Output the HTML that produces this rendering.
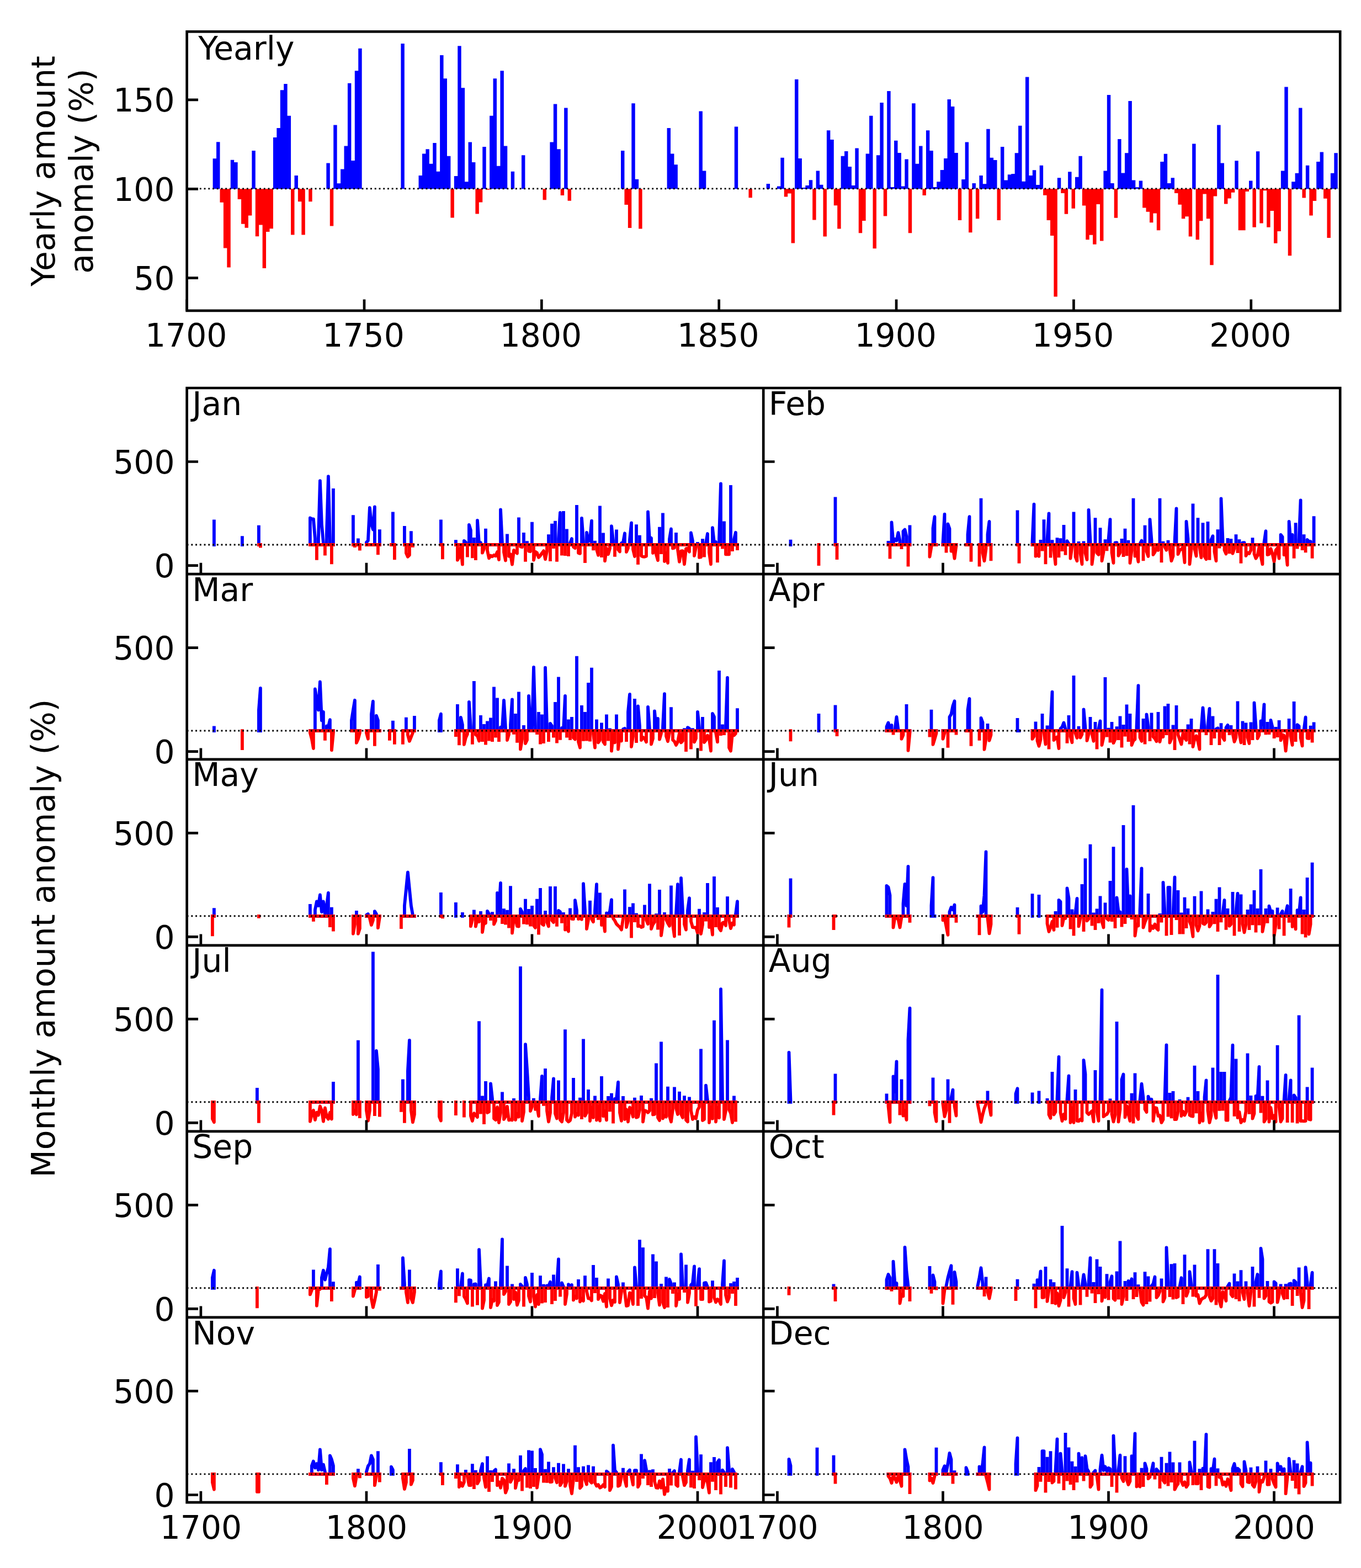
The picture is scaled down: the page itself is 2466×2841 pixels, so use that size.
<!DOCTYPE html>
<html><head><meta charset="utf-8"><title>Yearly and monthly amount anomaly</title>
<style>html,body{margin:0;padding:0;background:#fff;}svg{display:block;}</style></head>
<body><svg width="2466" height="2841" viewBox="0 0 2466 2841">
<rect width="2466" height="2841" fill="#fff"/>
<g font-family="'DejaVu Sans', 'Liberation Sans', sans-serif" font-size="58.33" fill="#000">
<path d="M385.62 287.30h6.43v55.00h-6.43zM392.05 257.20h6.43v85.10h-6.43zM417.77 289.80h6.43v52.50h-6.43zM424.20 294.00h6.43v48.30h-6.43zM456.35 273.10h6.43v69.20h-6.43zM494.92 249.10h6.43v93.20h-6.43zM501.35 232.00h6.43v110.30h-6.43zM507.78 163.30h6.43v179.00h-6.43zM514.21 152.00h6.43v190.30h-6.43zM520.64 209.80h6.43v132.50h-6.43zM533.50 317.90h6.43v24.40h-6.43zM591.36 295.40h6.43v46.90h-6.43zM604.22 226.60h6.43v115.70h-6.43zM610.65 332.20h6.43v10.10h-6.43zM617.08 306.60h6.43v35.70h-6.43zM623.51 264.40h6.43v77.90h-6.43zM629.94 150.70h6.43v191.60h-6.43zM636.37 291.10h6.43v51.20h-6.43zM642.80 128.20h6.43v214.10h-6.43zM649.23 87.70h6.43v254.60h-6.43zM726.38 79.00h6.43v263.30h-6.43zM758.53 318.00h6.43v24.30h-6.43zM764.96 278.50h6.43v63.80h-6.43zM771.39 270.20h6.43v72.10h-6.43zM777.82 296.70h6.43v45.60h-6.43zM784.25 258.90h6.43v83.40h-6.43zM790.68 310.80h6.43v31.50h-6.43zM797.11 100.10h6.43v242.20h-6.43zM803.54 142.30h6.43v200.00h-6.43zM809.97 282.80h6.43v59.50h-6.43zM822.82 319.00h6.43v23.30h-6.43zM829.25 83.20h6.43v259.10h-6.43zM835.68 159.20h6.43v183.10h-6.43zM842.11 329.30h6.43v13.00h-6.43zM848.54 257.60h6.43v84.70h-6.43zM854.97 294.00h6.43v48.30h-6.43zM874.26 265.90h6.43v76.40h-6.43zM887.12 209.70h6.43v132.60h-6.43zM893.55 142.30h6.43v200.00h-6.43zM899.98 300.80h6.43v41.50h-6.43zM906.41 128.20h6.43v214.10h-6.43zM912.84 264.40h6.43v77.90h-6.43zM925.70 310.80h6.43v31.50h-6.43zM944.98 281.20h6.43v61.10h-6.43zM996.42 257.60h6.43v84.70h-6.43zM1002.85 188.40h6.43v153.90h-6.43zM1009.28 270.20h6.43v72.10h-6.43zM1022.14 195.60h6.43v146.70h-6.43zM1125.01 273.10h6.43v69.20h-6.43zM1144.30 187.30h6.43v155.00h-6.43zM1150.73 324.80h6.43v17.50h-6.43zM1208.59 232.00h6.43v110.30h-6.43zM1215.02 278.50h6.43v63.80h-6.43zM1221.45 298.30h6.43v44.00h-6.43zM1266.46 201.40h6.43v140.90h-6.43zM1272.89 309.50h6.43v32.80h-6.43zM1330.75 229.50h6.43v112.80h-6.43zM1388.62 333.10h6.43v9.20h-6.43zM1407.90 337.40h6.43v4.90h-6.43zM1414.33 285.70h6.43v56.60h-6.43zM1440.05 143.70h6.43v198.60h-6.43zM1446.48 287.00h6.43v55.30h-6.43zM1452.91 339.90h6.43v2.40h-6.43zM1459.34 336.00h6.43v6.30h-6.43zM1465.77 326.30h6.43v16.00h-6.43zM1478.63 309.50h6.43v32.80h-6.43zM1485.06 334.70h6.43v7.60h-6.43zM1497.92 236.30h6.43v106.00h-6.43zM1504.34 253.10h6.43v89.20h-6.43zM1523.63 282.80h6.43v59.50h-6.43zM1530.06 274.00h6.43v68.30h-6.43zM1536.49 302.10h6.43v40.20h-6.43zM1542.92 336.00h6.43v6.30h-6.43zM1549.35 268.60h6.43v73.70h-6.43zM1568.64 278.50h6.43v63.80h-6.43zM1575.07 209.70h6.43v132.60h-6.43zM1587.93 281.20h6.43v61.10h-6.43zM1594.36 185.90h6.43v156.40h-6.43zM1607.22 165.00h6.43v177.30h-6.43zM1613.65 338.90h6.43v3.40h-6.43zM1620.07 254.70h6.43v87.60h-6.43zM1626.50 277.00h6.43v65.30h-6.43zM1632.93 337.60h6.43v4.70h-6.43zM1639.36 288.60h6.43v53.70h-6.43zM1652.22 187.30h6.43v155.00h-6.43zM1658.65 296.70h6.43v45.60h-6.43zM1665.08 264.40h6.43v77.90h-6.43zM1677.94 236.30h6.43v106.00h-6.43zM1684.37 273.10h6.43v69.20h-6.43zM1690.80 338.90h6.43v3.40h-6.43zM1697.23 329.30h6.43v13.00h-6.43zM1703.66 307.90h6.43v34.40h-6.43zM1710.09 287.00h6.43v55.30h-6.43zM1716.52 180.10h6.43v162.20h-6.43zM1722.95 193.10h6.43v149.20h-6.43zM1729.38 277.00h6.43v65.30h-6.43zM1742.23 325.00h6.43v17.30h-6.43zM1748.66 257.50h6.43v84.80h-6.43zM1761.52 332.00h6.43v10.30h-6.43zM1774.38 317.90h6.43v24.40h-6.43zM1780.81 333.20h6.43v9.10h-6.43zM1787.24 233.70h6.43v108.60h-6.43zM1793.67 285.70h6.43v56.60h-6.43zM1800.10 290.10h6.43v52.20h-6.43zM1812.96 265.90h6.43v76.40h-6.43zM1819.39 326.40h6.43v15.90h-6.43zM1825.82 316.20h6.43v26.10h-6.43zM1832.25 315.00h6.43v27.30h-6.43zM1838.68 277.20h6.43v65.10h-6.43zM1845.11 227.80h6.43v114.50h-6.43zM1851.53 328.80h6.43v13.50h-6.43zM1857.96 139.40h6.43v202.90h-6.43zM1864.39 317.90h6.43v24.40h-6.43zM1870.82 308.20h6.43v34.10h-6.43zM1877.25 334.90h6.43v7.40h-6.43zM1883.68 299.80h6.43v42.50h-6.43zM1915.83 322.30h6.43v20.00h-6.43zM1935.12 311.20h6.43v31.10h-6.43zM1947.98 320.80h6.43v21.50h-6.43zM1954.41 282.80h6.43v59.50h-6.43zM1999.41 309.50h6.43v32.80h-6.43zM2005.84 171.90h6.43v170.40h-6.43zM2012.27 332.00h6.43v10.30h-6.43zM2025.13 252.10h6.43v90.20h-6.43zM2031.56 313.60h6.43v28.70h-6.43zM2037.99 277.20h6.43v65.10h-6.43zM2044.42 183.00h6.43v159.30h-6.43zM2050.85 326.40h6.43v15.90h-6.43zM2057.28 339.20h6.43v3.10h-6.43zM2063.71 327.60h6.43v14.70h-6.43zM2102.28 293.00h6.43v49.30h-6.43zM2108.71 278.70h6.43v63.60h-6.43zM2115.14 332.00h6.43v10.30h-6.43zM2121.57 322.30h6.43v20.00h-6.43zM2160.15 260.50h6.43v81.80h-6.43zM2205.15 226.60h6.43v115.70h-6.43zM2211.58 295.40h6.43v46.90h-6.43zM2237.30 291.30h6.43v51.00h-6.43zM2263.02 327.60h6.43v14.70h-6.43zM2275.88 274.30h6.43v68.00h-6.43zM2320.88 309.50h6.43v32.80h-6.43zM2327.31 157.60h6.43v184.70h-6.43zM2340.17 329.30h6.43v13.00h-6.43zM2346.60 313.80h6.43v28.50h-6.43zM2353.03 195.60h6.43v146.70h-6.43zM2365.89 299.80h6.43v42.50h-6.43zM2385.18 293.00h6.43v49.30h-6.43zM2391.61 275.50h6.43v66.80h-6.43zM2410.90 313.80h6.43v28.50h-6.43zM2417.33 277.20h6.43v65.10h-6.43z" fill="#0000ff"/>
<path d="M398.48 342.30h6.43v24.40h-6.43zM404.91 342.30h6.43v107.30h-6.43zM411.34 342.30h6.43v142.20h-6.43zM430.63 342.30h6.43v18.60h-6.43zM437.06 342.30h6.43v63.50h-6.43zM443.49 342.30h6.43v70.50h-6.43zM449.92 342.30h6.43v48.20h-6.43zM462.78 342.30h6.43v86.00h-6.43zM469.21 342.30h6.43v65.10h-6.43zM475.63 342.30h6.43v143.60h-6.43zM482.06 342.30h6.43v77.70h-6.43zM488.49 342.30h6.43v71.90h-6.43zM527.07 342.30h6.43v83.10h-6.43zM539.93 342.30h6.43v22.90h-6.43zM546.36 342.30h6.43v83.10h-6.43zM559.22 342.30h6.43v22.90h-6.43zM597.79 342.30h6.43v67.30h-6.43zM816.40 342.30h6.43v52.20h-6.43zM861.40 342.30h6.43v45.10h-6.43zM867.83 342.30h6.43v24.10h-6.43zM880.69 342.30h6.43v1.50h-6.43zM983.56 342.30h6.43v19.90h-6.43zM1015.71 342.30h6.43v11.70h-6.43zM1028.57 342.30h6.43v21.40h-6.43zM1131.44 342.30h6.43v28.60h-6.43zM1137.87 342.30h6.43v70.60h-6.43zM1157.16 342.30h6.43v72.20h-6.43zM1356.47 342.30h6.43v16.00h-6.43zM1420.76 342.30h6.43v14.10h-6.43zM1427.19 342.30h6.43v8.30h-6.43zM1433.62 342.30h6.43v98.30h-6.43zM1472.20 342.30h6.43v56.30h-6.43zM1491.49 342.30h6.43v86.10h-6.43zM1510.77 342.30h6.43v30.00h-6.43zM1517.20 342.30h6.43v72.20h-6.43zM1555.78 342.30h6.43v79.90h-6.43zM1562.21 342.30h6.43v57.70h-6.43zM1581.50 342.30h6.43v108.00h-6.43zM1600.79 342.30h6.43v49.30h-6.43zM1645.79 342.30h6.43v79.90h-6.43zM1671.51 342.30h6.43v11.70h-6.43zM1735.80 342.30h6.43v56.70h-6.43zM1755.09 342.30h6.43v79.00h-6.43zM1767.95 342.30h6.43v53.90h-6.43zM1806.53 342.30h6.43v56.70h-6.43zM1890.11 342.30h6.43v11.50h-6.43zM1896.54 342.30h6.43v56.70h-6.43zM1902.97 342.30h6.43v84.60h-6.43zM1909.40 342.30h6.43v195.30h-6.43zM1922.26 342.30h6.43v7.60h-6.43zM1928.69 342.30h6.43v45.40h-6.43zM1941.55 342.30h6.43v35.50h-6.43zM1960.83 342.30h6.43v30.10h-6.43zM1967.26 342.30h6.43v91.90h-6.43zM1973.69 342.30h6.43v83.40h-6.43zM1980.12 342.30h6.43v100.40h-6.43zM1986.55 342.30h6.43v27.70h-6.43zM1992.98 342.30h6.43v94.30h-6.43zM2018.70 342.30h6.43v52.40h-6.43zM2070.14 342.30h6.43v34.20h-6.43zM2076.56 342.30h6.43v41.50h-6.43zM2082.99 342.30h6.43v60.90h-6.43zM2089.42 342.30h6.43v44.20h-6.43zM2095.85 342.30h6.43v74.90h-6.43zM2128.00 342.30h6.43v7.60h-6.43zM2134.43 342.30h6.43v28.40h-6.43zM2140.86 342.30h6.43v53.90h-6.43zM2147.29 342.30h6.43v50.00h-6.43zM2153.72 342.30h6.43v86.30h-6.43zM2166.58 342.30h6.43v91.90h-6.43zM2173.01 342.30h6.43v58.00h-6.43zM2179.44 342.30h6.43v9.10h-6.43zM2185.87 342.30h6.43v53.90h-6.43zM2192.29 342.30h6.43v137.90h-6.43zM2198.72 342.30h6.43v13.20h-6.43zM2218.01 342.30h6.43v27.20h-6.43zM2224.44 342.30h6.43v17.30h-6.43zM2230.87 342.30h6.43v6.40h-6.43zM2243.73 342.30h6.43v74.90h-6.43zM2250.16 342.30h6.43v74.90h-6.43zM2256.59 342.30h6.43v4.70h-6.43zM2269.45 342.30h6.43v69.40h-6.43zM2282.31 342.30h6.43v62.30h-6.43zM2288.74 342.30h6.43v3.00h-6.43zM2295.17 342.30h6.43v69.40h-6.43zM2301.60 342.30h6.43v39.80h-6.43zM2308.02 342.30h6.43v98.40h-6.43zM2314.45 342.30h6.43v76.60h-6.43zM2333.74 342.30h6.43v120.90h-6.43zM2359.46 342.30h6.43v16.10h-6.43zM2372.32 342.30h6.43v48.30h-6.43zM2378.75 342.30h6.43v21.70h-6.43zM2398.04 342.30h6.43v17.50h-6.43zM2404.47 342.30h6.43v88.70h-6.43z" fill="#ff0000"/>
<line x1="338.64" y1="341.90" x2="2428.20" y2="341.90" stroke="#000" stroke-width="2.92" stroke-dasharray="2.92 4.81"/>
<path d="M338.64 562.90V542.50M660.00 562.90V542.50M981.36 562.90V542.50M1302.72 562.90V542.50M1624.08 562.90V542.50M1945.44 562.90V542.50M2266.80 562.90V542.50M338.64 503.70H359.04M338.64 342.30H359.04M338.64 180.90H359.04" stroke="#000" stroke-width="4.67" fill="none"/>
<rect x="338.64" y="57.30" width="2089.56" height="505.60" fill="none" stroke="#000" stroke-width="4.67" stroke-linejoin="miter"/>
<text x="337.24" y="627.8" text-anchor="middle">1700</text>
<text x="658.60" y="627.8" text-anchor="middle">1750</text>
<text x="979.96" y="627.8" text-anchor="middle">1800</text>
<text x="1301.32" y="627.8" text-anchor="middle">1850</text>
<text x="1622.68" y="627.8" text-anchor="middle">1900</text>
<text x="1944.04" y="627.8" text-anchor="middle">1950</text>
<text x="2265.40" y="627.8" text-anchor="middle">2000</text>
<text x="316.5" y="525.20" text-anchor="end">50</text>
<text x="316.5" y="363.80" text-anchor="end">100</text>
<text x="316.5" y="202.40" text-anchor="end">150</text>
<text x="359.3" y="108.2">Yearly</text>
<text transform="translate(99,310.1) rotate(-90)" text-anchor="middle">Yearly amount</text>
<text transform="translate(168.1,310.1) rotate(-90)" text-anchor="middle">anomaly (%)</text>
<path d="M387.9 987.0L387.9 944.5M438.9 987.0L438.9 974.2M468.9 987.0H471.9M468.9 987.0L468.9 954.6M561.9 987.0H603.9M561.9 987.0L561.9 938.5L564.9 940.3L567.9 940.3L570.9 975.7L570.9 987.0M576.9 987.0L576.9 975.7L579.9 871.1L582.9 950.1L585.9 983.2L585.9 987.0M591.9 987.0L591.9 968.2L594.9 863.2L597.9 979.5L597.9 987.0M603.9 987.0L603.9 888.0M639.9 987.0H651.9M639.9 987.0L639.9 936.2M648.9 987.0L648.9 978.3M663.9 987.0H687.9M663.9 987.0L663.9 982.8L666.9 979.5L669.9 920.0L672.9 949.4L675.9 959.5L678.9 918.5L678.9 987.0M687.9 987.0L687.9 962.2M708.9 987.0H714.9M711.9 987.0L711.9 930.5M732.9 987.0H747.9M732.9 987.0L732.9 955.8M744.9 987.0L744.9 965.2M798.9 987.0H801.9M798.9 987.0L798.9 944.5M825.9 987.0H1336.0M825.9 987.0L825.9 981.2M840.9 987.0L840.9 979.8L843.9 982.5L843.9 987.0M849.9 987.0L849.9 950.9L852.9 960.6L852.9 987.0M858.9 987.0L858.9 976.8M865.0 987.0L865.0 943.0L868.0 984.7L871.0 983.2L871.0 987.0M880.0 987.0L880.0 960.6M907.0 987.0L907.0 923.4L910.0 984.8L910.0 987.0M919.0 987.0L919.0 970.4M940.0 987.0L940.0 940.3M949.0 987.0L949.0 967.8M955.0 987.0L955.0 983.2M964.0 987.0L964.0 948.6M994.0 987.0L994.0 971.2M1000.0 987.0L1000.0 951.6M1006.0 987.0L1006.0 946.7M1012.0 987.0L1012.0 976.1L1015.0 929.0L1015.0 987.0M1021.0 987.0L1021.0 929.0M1027.0 987.0L1027.0 961.4M1033.0 987.0L1033.0 983.7L1036.0 976.1L1036.0 987.0M1045.0 987.0L1045.0 917.8M1054.0 987.0L1054.0 938.8L1057.0 980.8L1057.0 987.0M1063.0 987.0L1063.0 964.8L1066.0 980.9L1069.0 976.9L1072.0 943.7L1072.0 987.0M1078.0 987.0L1078.0 982.6M1087.0 987.0L1087.0 919.3M1093.0 987.0L1093.0 968.5M1108.0 987.0L1108.0 953.1L1111.0 979.2L1111.0 987.0M1117.0 987.0L1117.0 962.5M1126.0 987.0L1126.0 983.9L1129.0 982.8L1132.0 966.3L1132.0 987.0M1141.0 987.0L1141.0 977.7L1144.0 947.5L1144.0 987.0M1153.0 987.0L1153.0 953.1M1159.0 987.0L1159.0 972.7M1174.0 987.0L1174.0 927.5L1177.0 978.6L1180.0 974.9L1180.0 987.0M1195.0 987.0L1195.0 957.6M1201.0 987.0L1201.0 932.4M1213.0 987.0L1213.0 976.8L1216.0 958.4L1216.0 987.0M1225.0 987.0L1225.0 967.8M1252.0 987.0L1252.0 965.5L1255.0 980.1L1255.0 987.0M1264.0 987.0L1264.0 984.8M1273.0 987.0L1273.0 979.2M1279.0 987.0L1279.0 984.0L1282.0 967.0L1282.0 987.0M1291.0 987.0L1291.0 956.1L1294.0 983.4L1297.0 981.7L1297.0 987.0M1303.0 987.0L1303.0 976.1L1306.0 876.4L1306.0 987.0M1312.0 987.0L1312.0 947.5M1324.0 987.0L1324.0 882.0M1330.0 987.0L1330.0 977.3L1333.0 964.8L1333.0 987.0" fill="none" stroke="#0000ff" stroke-width="5.80" stroke-linejoin="round" stroke-linecap="square"/>
<path d="M468.9 987.0H471.9M471.9 987.0L471.9 989.6M561.9 987.0H603.9M573.9 987.0L573.9 1011.8M588.9 987.0L588.9 1003.5M600.9 987.0L600.9 1019.3M639.9 987.0H651.9M642.9 987.0L642.9 989.2M651.9 987.0L651.9 994.5M663.9 987.0H687.9M684.9 987.0L684.9 1002.4M708.9 987.0H714.9M714.9 987.0L714.9 1011.4M732.9 987.0H747.9M735.9 987.0L735.9 1002.0L738.9 1008.8L741.9 1005.8L741.9 987.0M747.9 987.0L747.9 988.9M798.9 987.0H801.9M801.9 987.0L801.9 1010.3M825.9 987.0H1336.0M828.9 987.0L828.9 1014.8L831.9 1009.6L834.9 991.7L837.9 1022.7L837.9 987.0M846.9 987.0L846.9 1006.5M855.9 987.0L855.9 1008.4M861.9 987.0L861.9 1012.2M874.0 987.0L874.0 1001.7L877.0 994.1L877.0 987.0M883.0 987.0L883.0 997.4L886.0 1011.4L889.0 1006.6L892.0 1008.4L895.0 1005.8L898.0 1007.3L901.0 1000.0L904.0 1014.1L904.0 987.0M913.0 987.0L913.0 1000.4L916.0 1015.6L916.0 987.0M922.0 987.0L922.0 1007.8L925.0 1004.3L928.0 1022.7L931.0 996.9L934.0 1000.1L937.0 1002.6L937.0 987.0M943.0 987.0L943.0 990.4L946.0 991.3L946.0 987.0M952.0 987.0L952.0 1014.8M958.0 987.0L958.0 998.6L961.0 999.2L961.0 987.0M967.0 987.0L967.0 1014.8L970.0 999.6L973.0 1001.7L976.0 1009.9L979.0 1006.7L982.0 1002.2L985.0 998.1L988.0 1013.3L991.0 998.6L991.0 987.0M997.0 987.0L997.0 1014.1M1003.0 987.0L1003.0 991.2M1009.0 987.0L1009.0 1014.8M1018.0 987.0L1018.0 1003.6M1024.0 987.0L1024.0 1004.1M1030.0 987.0L1030.0 1005.0M1039.0 987.0L1039.0 990.9L1042.0 993.2L1042.0 987.0M1048.0 987.0L1048.0 1002.0L1051.0 1002.9L1051.0 987.0M1060.0 987.0L1060.0 1017.1M1075.0 987.0L1075.0 994.3M1081.0 987.0L1081.0 995.3L1084.0 1005.9L1084.0 987.0M1090.0 987.0L1090.0 1007.2M1096.0 987.0L1096.0 1016.3L1099.0 993.3L1102.0 1004.3L1105.0 993.6L1105.0 987.0M1114.0 987.0L1114.0 1005.8M1120.0 987.0L1120.0 995.8L1123.0 999.4L1123.0 987.0M1135.0 987.0L1135.0 1000.1L1138.0 993.1L1138.0 987.0M1147.0 987.0L1147.0 995.6L1150.0 1008.2L1150.0 987.0M1156.0 987.0L1156.0 1020.1M1162.0 987.0L1162.0 1007.3L1165.0 1008.6L1168.0 1008.8L1171.0 1007.8L1171.0 987.0M1183.0 987.0L1183.0 1002.0L1186.0 991.1L1189.0 1004.5L1192.0 1015.2L1192.0 987.0M1198.0 987.0L1198.0 1001.2M1204.0 987.0L1204.0 1017.1L1207.0 1001.8L1210.0 1020.1L1210.0 987.0M1219.0 987.0L1219.0 993.5L1222.0 992.8L1222.0 987.0M1228.0 987.0L1228.0 995.8L1231.0 1017.8L1234.0 998.3L1237.0 998.1L1240.0 1022.3L1243.0 994.1L1246.0 993.7L1249.0 999.8L1249.0 987.0M1258.0 987.0L1258.0 1007.0L1261.0 991.5L1261.0 987.0M1267.0 987.0L1267.0 1009.9L1270.0 1009.5L1270.0 987.0M1276.0 987.0L1276.0 1006.5M1285.0 987.0L1285.0 1001.1L1288.0 1022.3L1288.0 987.0M1300.0 987.0L1300.0 1016.3M1309.0 987.0L1309.0 991.5M1315.0 987.0L1315.0 1004.3L1318.0 1004.3L1321.0 1004.3L1321.0 987.0M1327.0 987.0L1327.0 996.1M1336.0 987.0L1336.0 994.1" fill="none" stroke="#ff0000" stroke-width="5.80" stroke-linejoin="round" stroke-linecap="square"/>
<line x1="338.64" y1="986.98" x2="1383.20" y2="986.98" stroke="#000" stroke-width="2.92" stroke-dasharray="2.92 4.81"/>
<path d="M363.90 1040.10V1019.70M663.93 1040.10V1019.70M963.96 1040.10V1019.70M1263.99 1040.10V1019.70M338.64 1024.60H359.04M338.64 836.50H359.04" stroke="#000" stroke-width="4.67" fill="none"/>
<text x="348.24" y="751.60">Jan</text>
<text x="316.5" y="1046.10" text-anchor="end">0</text>
<text x="316.5" y="858.00" text-anchor="end">500</text>
<path d="M1432.5 987.0L1432.5 980.6M1513.5 987.0H1516.5M1513.5 987.0L1513.5 903.5M1609.5 987.0H1648.5M1609.5 987.0L1609.5 982.8M1615.5 987.0L1615.5 946.4L1618.5 983.2L1621.5 976.8L1624.5 979.5L1627.5 965.2L1630.5 979.5L1630.5 987.0M1636.5 987.0L1636.5 962.5L1639.5 959.5L1642.5 971.9L1642.5 987.0M1648.5 987.0L1648.5 954.3M1684.5 987.0H1696.5M1690.5 987.0L1690.5 956.9L1693.5 936.2L1693.5 987.0M1708.5 987.0H1732.5M1708.5 987.0L1708.5 983.2L1711.5 931.7L1711.5 987.0M1717.5 987.0L1717.5 949.4L1720.5 958.0L1720.5 987.0M1750.5 987.0H1759.5M1753.5 987.0L1753.5 968.2L1756.5 936.2L1756.5 987.0M1774.5 987.0H1795.5M1777.5 987.0L1777.5 905.7M1789.5 987.0L1789.5 968.2L1792.5 944.8L1792.5 987.0M1843.5 987.0H1846.5M1843.5 987.0L1843.5 927.5M1870.5 987.0H2380.6M1870.5 987.0L1870.5 981.3L1873.5 913.6L1873.5 987.0M1885.5 987.0L1885.5 980.9M1891.5 987.0L1891.5 944.1M1897.5 987.0L1897.5 977.8L1900.5 930.5L1900.5 987.0M1906.5 987.0L1906.5 981.1M1915.5 987.0L1915.5 977.1M1921.5 987.0L1921.5 978.1M1927.5 987.0L1927.5 953.9M1933.5 987.0L1933.5 980.2L1936.5 985.2L1936.5 987.0M1945.5 987.0L1945.5 930.5M1954.5 987.0L1954.5 984.0M1963.5 987.0L1963.5 983.5M1972.5 987.0L1972.5 923.8L1975.5 980.4L1975.5 987.0M1984.5 987.0L1984.5 941.1M1993.5 987.0L1993.5 959.1M2002.5 987.0L2002.5 980.2M2008.5 987.0L2008.5 977.9L2011.5 941.1L2011.5 987.0M2020.5 987.0L2020.5 983.4L2023.5 983.2L2023.5 987.0M2032.5 987.0L2032.5 978.9M2038.5 987.0L2038.5 960.6M2044.5 987.0L2044.5 981.7M2053.5 987.0L2053.5 905.7M2065.5 987.0L2065.5 985.4L2068.5 979.6L2068.5 987.0M2074.5 987.0L2074.5 954.6M2083.5 987.0L2083.5 941.1L2086.5 979.1L2086.5 987.0M2101.5 987.0L2101.5 905.7M2107.5 987.0L2107.5 983.6M2116.5 987.0L2116.5 981.7M2128.5 987.0L2128.5 981.0L2131.5 921.5L2131.5 987.0M2149.5 987.0L2149.5 944.8L2152.5 976.4L2152.5 987.0M2161.5 987.0L2161.5 915.5M2170.5 987.0L2170.5 941.1M2179.5 987.0L2179.5 950.1M2188.5 987.0L2188.5 947.9M2194.5 987.0L2194.5 978.1L2197.5 971.2L2197.5 987.0M2206.5 987.0L2206.5 962.2M2212.5 987.0L2212.5 903.5L2215.5 978.4L2215.5 987.0M2224.5 987.0L2224.5 978.0M2230.5 987.0L2230.5 979.1M2239.5 987.0L2239.5 971.2M2245.5 987.0L2245.5 980.2M2251.5 987.0L2251.5 983.3L2254.5 983.2L2254.5 987.0M2269.5 987.0L2269.5 977.2M2290.5 987.0L2290.5 982.8L2293.5 962.2L2293.5 987.0M2320.6 987.0L2320.6 968.9L2323.6 972.7L2323.6 987.0M2335.6 987.0L2335.6 944.8L2338.6 982.9L2341.6 968.9L2341.6 987.0M2347.6 987.0L2347.6 950.1M2353.6 987.0L2353.6 979.0L2356.6 906.5L2356.6 987.0M2362.6 987.0L2362.6 971.2M2368.6 987.0L2368.6 978.0L2371.6 981.0L2374.6 981.2L2374.6 987.0M2380.6 987.0L2380.6 938.1" fill="none" stroke="#0000ff" stroke-width="5.80" stroke-linejoin="round" stroke-linecap="square"/>
<path d="M1483.5 987.0L1483.5 1022.0M1513.5 987.0H1516.5M1516.5 987.0L1516.5 1011.1M1609.5 987.0H1648.5M1612.5 987.0L1612.5 1009.6M1633.5 987.0L1633.5 992.2M1645.5 987.0L1645.5 1023.5M1684.5 987.0H1696.5M1684.5 987.0L1684.5 1008.8L1687.5 990.7L1687.5 987.0M1708.5 987.0H1732.5M1714.5 987.0L1714.5 998.6M1723.5 987.0L1723.5 998.6L1726.5 990.7L1729.5 1011.8L1732.5 988.9L1732.5 987.0M1750.5 987.0H1759.5M1759.5 987.0L1759.5 1014.8M1774.5 987.0H1795.5M1774.5 987.0L1774.5 1023.5M1780.5 987.0L1780.5 1002.0L1783.5 1016.3L1786.5 994.5L1786.5 987.0M1795.5 987.0L1795.5 1013.3M1843.5 987.0H1846.5M1846.5 987.0L1846.5 1017.8M1870.5 987.0H2380.6M1876.5 987.0L1876.5 1007.7L1879.5 1005.8L1882.5 1007.7L1882.5 987.0M1888.5 987.0L1888.5 995.7M1894.5 987.0L1894.5 1019.3M1903.5 987.0L1903.5 1007.6M1909.5 987.0L1909.5 996.7L1912.5 1022.3L1912.5 987.0M1918.5 987.0L1918.5 1007.3M1924.5 987.0L1924.5 996.0M1930.5 987.0L1930.5 1002.8M1939.5 987.0L1939.5 1011.8L1942.5 990.6L1942.5 987.0M1948.5 987.0L1948.5 1009.0L1951.5 1016.3L1951.5 987.0M1957.5 987.0L1957.5 1002.5L1960.5 1022.3L1960.5 987.0M1966.5 987.0L1966.5 1002.0L1969.5 1014.1L1969.5 987.0M1978.5 987.0L1978.5 1022.3L1981.5 1000.1L1981.5 987.0M1987.5 987.0L1987.5 1001.8L1990.5 1005.0L1990.5 987.0M1996.5 987.0L1996.5 1016.3L1999.5 1000.4L1999.5 987.0M2005.5 987.0L2005.5 995.3M2014.5 987.0L2014.5 1001.4L2017.5 1020.1L2017.5 987.0M2026.5 987.0L2026.5 1006.8L2029.5 1001.3L2029.5 987.0M2035.5 987.0L2035.5 1006.0M2041.5 987.0L2041.5 1004.3M2047.5 987.0L2047.5 1020.1L2050.5 997.6L2050.5 987.0M2056.5 987.0L2056.5 1007.7L2059.5 1000.5L2062.5 1017.8L2062.5 987.0M2071.5 987.0L2071.5 1013.3M2077.5 987.0L2077.5 999.2L2080.5 1008.1L2080.5 987.0M2089.5 987.0L2089.5 1005.0L2092.5 1000.5L2095.5 992.1L2098.5 996.9L2098.5 987.0M2104.5 987.0L2104.5 1016.3M2110.5 987.0L2110.5 991.1L2113.5 996.8L2113.5 987.0M2119.5 987.0L2119.5 994.7L2122.5 1016.3L2125.5 1007.6L2125.5 987.0M2134.5 987.0L2134.5 1004.2L2137.5 996.8L2140.5 995.0L2143.5 991.3L2146.5 1019.3L2146.5 987.0M2155.5 987.0L2155.5 1022.3L2158.5 995.1L2158.5 987.0M2164.5 987.0L2164.5 994.9L2167.5 1007.6L2167.5 987.0M2173.5 987.0L2173.5 991.0L2176.5 1010.3L2176.5 987.0M2182.5 987.0L2182.5 1008.1L2185.5 1013.3L2185.5 987.0M2191.5 987.0L2191.5 1011.8M2200.5 987.0L2200.5 999.7L2203.5 1016.3L2203.5 987.0M2209.5 987.0L2209.5 990.5M2218.5 987.0L2218.5 996.8L2221.5 1003.6L2221.5 987.0M2227.5 987.0L2227.5 1000.3M2233.5 987.0L2233.5 1002.8L2236.5 993.8L2236.5 987.0M2242.5 987.0L2242.5 999.1M2248.5 987.0L2248.5 1017.8M2257.5 987.0L2257.5 1007.0L2260.5 1001.3L2263.5 1003.0L2266.5 996.8L2266.5 987.0M2272.5 987.0L2272.5 1003.6L2275.5 1011.8L2278.5 1006.8L2281.5 990.9L2284.5 1007.6L2287.5 1022.3L2287.5 987.0M2296.5 987.0L2296.5 1005.1L2299.5 1004.3L2302.5 994.1L2305.5 1003.5L2308.6 1017.8L2311.6 997.0L2314.6 993.0L2317.6 1011.8L2317.6 987.0M2326.6 987.0L2326.6 1005.3L2329.6 995.3L2332.6 1023.8L2332.6 987.0M2344.6 987.0L2344.6 1008.8M2350.6 987.0L2350.6 991.5M2359.6 987.0L2359.6 994.2M2365.6 987.0L2365.6 998.3M2377.6 987.0L2377.6 1008.8" fill="none" stroke="#ff0000" stroke-width="5.80" stroke-linejoin="round" stroke-linecap="square"/>
<line x1="1383.20" y1="986.98" x2="2428.20" y2="986.98" stroke="#000" stroke-width="2.92" stroke-dasharray="2.92 4.81"/>
<path d="M1408.46 1040.10V1019.70M1708.49 1040.10V1019.70M2008.52 1040.10V1019.70M2308.55 1040.10V1019.70M1383.20 1024.60H1403.60M1383.20 836.50H1403.60" stroke="#000" stroke-width="4.67" fill="none"/>
<text x="1392.80" y="751.60">Feb</text>
<path d="M387.9 1324.1L387.9 1318.4M468.9 1324.1H471.9M468.9 1324.1L468.9 1286.5L471.9 1247.0L471.9 1324.1M561.9 1324.1H603.9M570.9 1324.1L570.9 1248.5L573.9 1267.6L576.9 1286.5L579.9 1235.3L582.9 1305.3L585.9 1289.8L585.9 1324.1M591.9 1324.1L591.9 1315.4L594.9 1316.6L597.9 1304.1L597.9 1324.1M636.9 1324.1H651.9M636.9 1324.1L636.9 1305.3L639.9 1286.5L642.9 1268.8L642.9 1324.1M663.9 1324.1H687.9M672.9 1324.1L672.9 1294.0L675.9 1270.7L675.9 1324.1M681.9 1324.1L681.9 1296.6L684.9 1305.3L684.9 1324.1M705.9 1324.1H714.9M711.9 1324.1L711.9 1308.7M729.9 1324.1H750.9M735.9 1324.1L735.9 1302.6M750.9 1324.1L750.9 1300.0M795.9 1324.1H798.9M795.9 1324.1L795.9 1305.3L798.9 1293.6L798.9 1324.1M825.9 1324.1H1336.0M828.9 1324.1L828.9 1278.9M834.9 1324.1L834.9 1300.0L837.9 1313.1L837.9 1324.1M849.9 1324.1L849.9 1271.8L852.9 1316.9L852.9 1324.1M858.9 1324.1L858.9 1236.8M871.0 1324.1L871.0 1298.9M877.0 1324.1L877.0 1314.9M883.0 1324.1L883.0 1309.4M889.0 1324.1L889.0 1303.4M895.0 1324.1L895.0 1247.3M901.0 1324.1L901.0 1267.3M907.0 1324.1L907.0 1317.6L910.0 1319.8L913.0 1268.8L916.0 1318.9L916.0 1324.1M925.0 1324.1L925.0 1313.3L928.0 1267.3L928.0 1324.1M934.0 1324.1L934.0 1295.9M940.0 1324.1L940.0 1256.4M949.0 1324.1L949.0 1316.9M958.0 1324.1L958.0 1260.9L961.0 1316.1L964.0 1320.7L967.0 1209.0L970.0 1315.8L970.0 1324.1M976.0 1324.1L976.0 1292.9M982.0 1324.1L982.0 1297.4M988.0 1324.1L988.0 1209.7L991.0 1316.2L991.0 1324.1M997.0 1324.1L997.0 1310.9L1000.0 1315.1L1000.0 1324.1M1006.0 1324.1L1006.0 1274.8M1012.0 1324.1L1012.0 1229.3M1018.0 1324.1L1018.0 1319.0L1021.0 1322.0L1024.0 1260.9L1024.0 1324.1M1030.0 1324.1L1030.0 1306.4M1036.0 1324.1L1036.0 1301.9M1045.0 1324.1L1045.0 1191.7M1054.0 1324.1L1054.0 1280.8M1060.0 1324.1L1060.0 1292.9M1066.0 1324.1L1066.0 1239.8M1072.0 1324.1L1072.0 1212.7M1081.0 1324.1L1081.0 1306.4M1090.0 1324.1L1090.0 1312.4M1099.0 1324.1L1099.0 1297.4M1105.0 1324.1L1105.0 1322.4M1117.0 1324.1L1117.0 1297.4M1129.0 1324.1L1129.0 1321.2L1132.0 1319.8L1132.0 1324.1M1138.0 1324.1L1138.0 1289.8L1141.0 1257.9L1141.0 1324.1M1150.0 1324.1L1150.0 1268.8M1156.0 1324.1L1156.0 1279.3L1159.0 1316.0L1159.0 1324.1M1174.0 1324.1L1174.0 1280.8L1177.0 1320.6L1177.0 1324.1M1186.0 1324.1L1186.0 1288.3L1189.0 1319.8L1192.0 1301.9L1192.0 1324.1M1201.0 1324.1L1201.0 1317.3L1204.0 1257.1L1204.0 1324.1M1216.0 1324.1L1216.0 1284.2M1240.0 1324.1L1240.0 1322.2M1246.0 1324.1L1246.0 1318.1L1249.0 1319.9L1249.0 1324.1M1255.0 1324.1L1255.0 1322.2M1264.0 1324.1L1264.0 1289.8L1267.0 1318.3L1267.0 1324.1M1273.0 1324.1L1273.0 1301.9M1291.0 1324.1L1291.0 1292.9L1294.0 1298.9L1294.0 1324.1M1303.0 1324.1L1303.0 1218.0M1309.0 1324.1L1309.0 1315.5M1315.0 1324.1L1315.0 1315.2L1318.0 1227.8L1318.0 1324.1M1336.0 1324.1L1336.0 1286.1" fill="none" stroke="#0000ff" stroke-width="5.80" stroke-linejoin="round" stroke-linecap="square"/>
<path d="M438.9 1324.1L438.9 1356.1M561.9 1324.1H603.9M561.9 1324.1L561.9 1327.8L564.9 1339.1L567.9 1356.1L567.9 1324.1M588.9 1324.1L588.9 1338.8M600.9 1324.1L600.9 1359.1L603.9 1327.8L603.9 1324.1M636.9 1324.1H651.9M645.9 1324.1L645.9 1345.9L648.9 1339.1L651.9 1327.8L651.9 1324.1M663.9 1324.1H687.9M663.9 1324.1L663.9 1327.8L666.9 1338.8L666.9 1324.1M678.9 1324.1L678.9 1348.9M705.9 1324.1H714.9M705.9 1324.1L705.9 1338.8M714.9 1324.1L714.9 1345.9M729.9 1324.1H750.9M729.9 1324.1L729.9 1345.9M738.9 1324.1L738.9 1331.6L741.9 1342.9L744.9 1335.4L747.9 1327.8L747.9 1324.1M825.9 1324.1H1336.0M825.9 1324.1L825.9 1332.2M831.9 1324.1L831.9 1347.4M840.9 1324.1L840.9 1348.9L843.9 1336.6L846.9 1330.0L846.9 1324.1M855.9 1324.1L855.9 1345.8M861.9 1324.1L861.9 1331.5L865.0 1333.0L868.0 1342.5L868.0 1324.1M874.0 1324.1L874.0 1341.0M880.0 1324.1L880.0 1346.5M886.0 1324.1L886.0 1339.5M892.0 1324.1L892.0 1341.1M898.0 1324.1L898.0 1333.5M904.0 1324.1L904.0 1341.0M919.0 1324.1L919.0 1341.0L922.0 1330.6L922.0 1324.1M931.0 1324.1L931.0 1327.8M937.0 1324.1L937.0 1342.9M943.0 1324.1L943.0 1357.6L946.0 1339.3L946.0 1324.1M952.0 1324.1L952.0 1347.0L955.0 1340.8L955.0 1324.1M973.0 1324.1L973.0 1328.2M979.0 1324.1L979.0 1345.7M985.0 1324.1L985.0 1344.0M994.0 1324.1L994.0 1341.0M1003.0 1324.1L1003.0 1333.7M1009.0 1324.1L1009.0 1343.5M1015.0 1324.1L1015.0 1337.9M1027.0 1324.1L1027.0 1333.5M1033.0 1324.1L1033.0 1338.0M1039.0 1324.1L1039.0 1336.9L1042.0 1339.5L1042.0 1324.1M1048.0 1324.1L1048.0 1344.0L1051.0 1354.6L1051.0 1324.1M1057.0 1324.1L1057.0 1339.9M1063.0 1324.1L1063.0 1339.5M1069.0 1324.1L1069.0 1340.6M1075.0 1324.1L1075.0 1329.9L1078.0 1354.6L1078.0 1324.1M1084.0 1324.1L1084.0 1345.5L1087.0 1340.9L1087.0 1324.1M1093.0 1324.1L1093.0 1344.0L1096.0 1348.5L1096.0 1324.1M1102.0 1324.1L1102.0 1339.7M1108.0 1324.1L1108.0 1360.6L1111.0 1330.6L1114.0 1345.5L1114.0 1324.1M1120.0 1324.1L1120.0 1357.6L1123.0 1332.1L1126.0 1342.5L1126.0 1324.1M1135.0 1324.1L1135.0 1341.0M1144.0 1324.1L1144.0 1353.0L1147.0 1334.3L1147.0 1324.1M1153.0 1324.1L1153.0 1343.2M1162.0 1324.1L1162.0 1341.0L1165.0 1335.7L1168.0 1338.0L1171.0 1344.4L1171.0 1324.1M1180.0 1324.1L1180.0 1348.5L1183.0 1338.3L1183.0 1324.1M1195.0 1324.1L1195.0 1339.7L1198.0 1329.0L1198.0 1324.1M1207.0 1324.1L1207.0 1333.6L1210.0 1343.2L1213.0 1327.5L1213.0 1324.1M1219.0 1324.1L1219.0 1340.6L1222.0 1343.3L1225.0 1350.0L1228.0 1344.4L1231.0 1328.4L1234.0 1345.5L1237.0 1342.5L1237.0 1324.1M1243.0 1324.1L1243.0 1359.1M1252.0 1324.1L1252.0 1354.6M1258.0 1324.1L1258.0 1344.6L1261.0 1338.0L1261.0 1324.1M1270.0 1324.1L1270.0 1357.6M1276.0 1324.1L1276.0 1345.0L1279.0 1341.0L1282.0 1332.4L1285.0 1339.4L1288.0 1360.6L1288.0 1324.1M1297.0 1324.1L1297.0 1327.2L1300.0 1344.4L1300.0 1324.1M1306.0 1324.1L1306.0 1330.0M1312.0 1324.1L1312.0 1329.0M1321.0 1324.1L1321.0 1354.6L1324.0 1360.6L1327.0 1328.7L1330.0 1332.3L1333.0 1329.0L1333.0 1324.1" fill="none" stroke="#ff0000" stroke-width="5.80" stroke-linejoin="round" stroke-linecap="square"/>
<line x1="338.64" y1="1324.08" x2="1383.20" y2="1324.08" stroke="#000" stroke-width="2.92" stroke-dasharray="2.92 4.81"/>
<path d="M363.90 1375.80V1355.40M663.93 1375.80V1355.40M963.96 1375.80V1355.40M1263.99 1375.80V1355.40M338.64 1361.70H359.04M338.64 1173.60H359.04" stroke="#000" stroke-width="4.67" fill="none"/>
<text x="348.24" y="1088.70">Mar</text>
<text x="316.5" y="1383.20" text-anchor="end">0</text>
<text x="316.5" y="1195.10" text-anchor="end">500</text>
<path d="M1483.5 1324.1L1483.5 1295.9M1513.5 1324.1H1516.5M1513.5 1324.1L1513.5 1280.4M1606.5 1324.1H1648.5M1606.5 1324.1L1606.5 1316.6L1609.5 1309.4L1612.5 1320.3L1615.5 1313.9L1615.5 1324.1M1621.5 1324.1L1621.5 1322.2L1624.5 1298.9L1627.5 1322.2L1627.5 1324.1M1642.5 1324.1L1642.5 1278.9M1684.5 1324.1H1696.5M1687.5 1324.1L1687.5 1288.7M1708.5 1324.1H1732.5M1720.5 1324.1L1720.5 1298.9L1723.5 1294.0L1726.5 1278.9L1729.5 1270.3L1729.5 1324.1M1750.5 1324.1H1759.5M1753.5 1324.1L1753.5 1286.5L1756.5 1265.8L1756.5 1324.1M1774.5 1324.1H1795.5M1777.5 1324.1L1777.5 1300.8L1780.5 1309.0L1780.5 1324.1M1789.5 1324.1L1789.5 1313.9M1843.5 1324.1H1846.5M1843.5 1324.1L1843.5 1303.8M1870.5 1324.1H2380.6M1876.5 1324.1L1876.5 1310.5M1888.5 1324.1L1888.5 1295.9M1897.5 1324.1L1897.5 1317.4M1903.5 1324.1L1903.5 1317.3L1906.5 1253.7L1906.5 1324.1M1921.5 1324.1L1921.5 1320.2L1924.5 1317.3L1927.5 1309.4L1930.5 1321.1L1930.5 1324.1M1936.5 1324.1L1936.5 1298.9M1945.5 1324.1L1945.5 1227.0M1954.5 1324.1L1954.5 1318.6M1963.5 1324.1L1963.5 1285.3L1966.5 1319.2L1966.5 1324.1M1975.5 1324.1L1975.5 1301.9M1984.5 1324.1L1984.5 1310.9M1990.5 1324.1L1990.5 1321.0L1993.5 1306.4L1993.5 1324.1M2002.5 1324.1L2002.5 1230.0M2008.5 1324.1L2008.5 1321.6M2014.5 1324.1L2014.5 1310.9M2023.5 1324.1L2023.5 1319.1M2029.5 1324.1L2029.5 1300.4M2035.5 1324.1L2035.5 1315.9M2041.5 1324.1L2041.5 1279.3M2047.5 1324.1L2047.5 1295.9M2059.5 1324.1L2059.5 1317.1L2062.5 1242.1L2062.5 1324.1M2071.5 1324.1L2071.5 1304.9M2077.5 1324.1L2077.5 1294.4L2080.5 1316.8L2080.5 1324.1M2086.5 1324.1L2086.5 1294.4M2098.5 1324.1L2098.5 1292.9M2110.5 1324.1L2110.5 1282.3M2116.5 1324.1L2116.5 1277.8M2125.5 1324.1L2125.5 1316.4M2131.5 1324.1L2131.5 1280.8M2152.5 1324.1L2152.5 1315.3M2158.5 1324.1L2158.5 1304.9M2176.5 1324.1L2176.5 1321.8L2179.5 1282.3L2182.5 1317.6L2182.5 1324.1M2188.5 1324.1L2188.5 1315.0L2191.5 1283.8L2191.5 1324.1M2197.5 1324.1L2197.5 1300.4M2203.5 1324.1L2203.5 1320.8L2206.5 1319.2L2206.5 1324.1M2212.5 1324.1L2212.5 1313.1M2221.5 1324.1L2221.5 1318.3L2224.5 1313.9L2224.5 1324.1M2230.5 1324.1L2230.5 1316.9M2242.5 1324.1L2242.5 1273.3M2251.5 1324.1L2251.5 1309.4M2257.5 1324.1L2257.5 1312.4M2266.5 1324.1L2266.5 1311.3M2272.5 1324.1L2272.5 1273.3L2275.5 1316.4L2275.5 1324.1M2284.5 1324.1L2284.5 1306.4L2287.5 1313.0L2290.5 1276.3L2290.5 1324.1M2296.5 1324.1L2296.5 1310.9M2302.5 1324.1L2302.5 1304.9L2305.5 1317.4L2305.5 1324.1M2311.6 1324.1L2311.6 1319.9M2317.6 1324.1L2317.6 1307.9M2335.6 1324.1L2335.6 1304.9M2344.6 1324.1L2344.6 1274.0M2350.6 1324.1L2350.6 1313.1L2353.6 1315.7L2353.6 1324.1M2362.6 1324.1L2362.6 1322.3L2365.6 1299.3L2365.6 1324.1M2374.6 1324.1L2374.6 1317.7M2380.6 1324.1L2380.6 1311.3" fill="none" stroke="#0000ff" stroke-width="5.80" stroke-linejoin="round" stroke-linecap="square"/>
<path d="M1432.5 1324.1L1432.5 1340.3M1513.5 1324.1H1516.5M1516.5 1324.1L1516.5 1331.2M1606.5 1324.1H1648.5M1618.5 1324.1L1618.5 1328.6M1633.5 1324.1L1633.5 1338.8L1636.5 1331.6L1636.5 1324.1M1645.5 1324.1L1645.5 1359.8L1648.5 1327.8L1648.5 1324.1M1684.5 1324.1H1696.5M1684.5 1324.1L1684.5 1332.7M1690.5 1324.1L1690.5 1348.9L1693.5 1339.1L1696.5 1328.6L1696.5 1324.1M1708.5 1324.1H1732.5M1708.5 1324.1L1708.5 1338.8L1711.5 1327.8L1711.5 1324.1M1717.5 1324.1L1717.5 1351.9M1732.5 1324.1L1732.5 1328.6M1750.5 1324.1H1759.5M1759.5 1324.1L1759.5 1348.9M1774.5 1324.1H1795.5M1774.5 1324.1L1774.5 1338.8M1783.5 1324.1L1783.5 1357.9L1786.5 1339.1L1786.5 1324.1M1792.5 1324.1L1792.5 1341.8L1795.5 1331.6L1795.5 1324.1M1870.5 1324.1H2380.6M1870.5 1324.1L1870.5 1338.9L1873.5 1334.2L1873.5 1324.1M1879.5 1324.1L1879.5 1342.2L1882.5 1351.9L1885.5 1339.7L1885.5 1324.1M1891.5 1324.1L1891.5 1327.3L1894.5 1348.5L1894.5 1324.1M1900.5 1324.1L1900.5 1354.6M1909.5 1324.1L1909.5 1341.1L1912.5 1337.2L1915.5 1335.2L1918.5 1356.1L1918.5 1324.1M1933.5 1324.1L1933.5 1343.9M1939.5 1324.1L1939.5 1334.2L1942.5 1345.2L1942.5 1324.1M1948.5 1324.1L1948.5 1328.4L1951.5 1337.1L1951.5 1324.1M1957.5 1324.1L1957.5 1336.5L1960.5 1330.5L1960.5 1324.1M1969.5 1324.1L1969.5 1341.9L1972.5 1330.5L1972.5 1324.1M1978.5 1324.1L1978.5 1329.4L1981.5 1342.8L1981.5 1324.1M1987.5 1324.1L1987.5 1354.6M1996.5 1324.1L1996.5 1350.0L1999.5 1336.2L1999.5 1324.1M2005.5 1324.1L2005.5 1332.6M2011.5 1324.1L2011.5 1342.5M2017.5 1324.1L2017.5 1346.2L2020.5 1339.5L2020.5 1324.1M2026.5 1324.1L2026.5 1338.0M2032.5 1324.1L2032.5 1351.5M2038.5 1324.1L2038.5 1331.6M2044.5 1324.1L2044.5 1341.0M2050.5 1324.1L2050.5 1350.0L2053.5 1342.2L2056.5 1339.5L2056.5 1324.1M2065.5 1324.1L2065.5 1336.3L2068.5 1342.9L2068.5 1324.1M2074.5 1324.1L2074.5 1345.5M2083.5 1324.1L2083.5 1340.0M2089.5 1324.1L2089.5 1334.9L2092.5 1338.0L2095.5 1343.2L2095.5 1324.1M2101.5 1324.1L2101.5 1344.0L2104.5 1329.6L2107.5 1335.0L2107.5 1324.1M2113.5 1324.1L2113.5 1329.2M2119.5 1324.1L2119.5 1345.7L2122.5 1338.3L2122.5 1324.1M2128.5 1324.1L2128.5 1356.1M2134.5 1324.1L2134.5 1331.3L2137.5 1340.0L2140.5 1348.5L2143.5 1328.4L2146.5 1337.0L2149.5 1341.0L2149.5 1324.1M2155.5 1324.1L2155.5 1345.5M2161.5 1324.1L2161.5 1353.0L2164.5 1338.4L2167.5 1333.2L2170.5 1343.1L2173.5 1357.6L2173.5 1324.1M2185.5 1324.1L2185.5 1329.0M2194.5 1324.1L2194.5 1347.0M2200.5 1324.1L2200.5 1335.0M2209.5 1324.1L2209.5 1347.0M2215.5 1324.1L2215.5 1336.0L2218.5 1341.0L2218.5 1324.1M2227.5 1324.1L2227.5 1329.0M2233.5 1324.1L2233.5 1328.7L2236.5 1344.0L2239.5 1336.5L2239.5 1324.1M2245.5 1324.1L2245.5 1328.5L2248.5 1345.5L2248.5 1324.1M2254.5 1324.1L2254.5 1347.0M2260.5 1324.1L2260.5 1336.0L2263.5 1347.0L2263.5 1324.1M2269.5 1324.1L2269.5 1338.0M2278.5 1324.1L2278.5 1338.0L2281.5 1331.7L2281.5 1324.1M2293.5 1324.1L2293.5 1328.3M2299.5 1324.1L2299.5 1328.2M2308.6 1324.1L2308.6 1335.0M2314.6 1324.1L2314.6 1333.1M2320.6 1324.1L2320.6 1341.3L2323.6 1331.2L2326.6 1332.7L2329.6 1360.6L2332.6 1332.0L2332.6 1324.1M2338.6 1324.1L2338.6 1334.4L2341.6 1350.0L2341.6 1324.1M2347.6 1324.1L2347.6 1341.0M2356.6 1324.1L2356.6 1336.6L2359.6 1351.5L2359.6 1324.1M2368.6 1324.1L2368.6 1337.6L2371.6 1338.0L2371.6 1324.1M2377.6 1324.1L2377.6 1342.5" fill="none" stroke="#ff0000" stroke-width="5.80" stroke-linejoin="round" stroke-linecap="square"/>
<line x1="1383.20" y1="1324.08" x2="2428.20" y2="1324.08" stroke="#000" stroke-width="2.92" stroke-dasharray="2.92 4.81"/>
<path d="M1408.46 1375.80V1355.40M1708.49 1375.80V1355.40M2008.52 1375.80V1355.40M2308.55 1375.80V1355.40M1383.20 1361.70H1403.60M1383.20 1173.60H1403.60" stroke="#000" stroke-width="4.67" fill="none"/>
<text x="1392.80" y="1088.70">Apr</text>
<path d="M384.9 1659.8H387.9M387.9 1659.8L387.9 1648.1M561.9 1659.8H603.9M561.9 1659.8L561.9 1641.0M570.9 1659.8L570.9 1648.5L573.9 1633.4L576.9 1641.0L579.9 1621.4L582.9 1652.3L585.9 1633.4L588.9 1656.0L591.9 1641.0L594.9 1617.6L594.9 1659.8M600.9 1659.8L600.9 1646.6M639.9 1659.8H651.9M645.9 1659.8L645.9 1653.0M663.9 1659.8H687.9M663.9 1659.8L663.9 1657.9L666.9 1656.0L666.9 1659.8M678.9 1659.8L678.9 1651.1L681.9 1656.0L681.9 1659.8M726.9 1659.8H750.9M732.9 1659.8L732.9 1641.0L735.9 1610.9L738.9 1580.4L741.9 1610.9L744.9 1641.0L747.9 1657.9L747.9 1659.8M798.9 1659.8H801.9M798.9 1659.8L798.9 1619.9M825.9 1659.8L825.9 1638.0M837.9 1659.8L837.9 1656.0M852.9 1659.8H1336.0M858.9 1659.8L858.9 1651.3M871.0 1659.8L871.0 1653.8M883.0 1659.8L883.0 1650.8L886.0 1656.0L886.0 1659.8M892.0 1659.8L892.0 1655.1M901.0 1659.8L901.0 1618.0L904.0 1650.6L907.0 1600.0L907.0 1659.8M913.0 1659.8L913.0 1649.1M919.0 1659.8L919.0 1651.7M925.0 1659.8L925.0 1608.2M943.0 1659.8L943.0 1647.0L946.0 1652.4L946.0 1659.8M952.0 1659.8L952.0 1631.6M958.0 1659.8L958.0 1650.0M964.0 1659.8L964.0 1644.0M973.0 1659.8L973.0 1631.6M979.0 1659.8L979.0 1612.0M988.0 1659.8L988.0 1652.9M997.0 1659.8L997.0 1609.0M1006.0 1659.8L1006.0 1609.0M1012.0 1659.8L1012.0 1650.0L1015.0 1652.1L1015.0 1659.8M1021.0 1659.8L1021.0 1656.0M1033.0 1659.8L1033.0 1648.5M1042.0 1659.8L1042.0 1631.2L1045.0 1649.5L1045.0 1659.8M1057.0 1659.8L1057.0 1601.1L1060.0 1650.6L1060.0 1659.8M1069.0 1659.8L1069.0 1634.6M1078.0 1659.8L1078.0 1649.1L1081.0 1602.2L1081.0 1659.8M1087.0 1659.8L1087.0 1620.3M1099.0 1659.8L1099.0 1654.5L1102.0 1656.8L1105.0 1651.2L1108.0 1630.1L1108.0 1659.8M1132.0 1659.8L1132.0 1614.3M1141.0 1659.8L1141.0 1646.2M1147.0 1659.8L1147.0 1639.5M1153.0 1659.8L1153.0 1657.5M1168.0 1659.8L1168.0 1642.5M1177.0 1659.8L1177.0 1604.1M1189.0 1659.8L1189.0 1658.2M1195.0 1659.8L1195.0 1615.0M1204.0 1659.8L1204.0 1656.0M1216.0 1659.8L1216.0 1607.5M1225.0 1659.8L1225.0 1656.5L1228.0 1602.2L1228.0 1659.8M1234.0 1659.8L1234.0 1590.9L1237.0 1651.3L1237.0 1659.8M1246.0 1659.8L1246.0 1650.0L1249.0 1627.1L1249.0 1659.8M1267.0 1659.8L1267.0 1649.6M1276.0 1659.8L1276.0 1656.0M1282.0 1659.8L1282.0 1603.0M1294.0 1659.8L1294.0 1590.9M1300.0 1659.8L1300.0 1647.0M1318.0 1659.8L1318.0 1627.1M1333.0 1659.8L1333.0 1656.6L1336.0 1633.1L1336.0 1659.8" fill="none" stroke="#0000ff" stroke-width="5.80" stroke-linejoin="round" stroke-linecap="square"/>
<path d="M384.9 1659.8H387.9M384.9 1659.8L384.9 1693.3M468.9 1659.8L468.9 1660.9M561.9 1659.8H603.9M567.9 1659.8L567.9 1666.9M597.9 1659.8L597.9 1677.1M603.9 1659.8L603.9 1684.6M639.9 1659.8H651.9M639.9 1659.8L639.9 1691.8L642.9 1674.8L642.9 1659.8M648.9 1659.8L648.9 1691.8L651.9 1682.4L651.9 1659.8M663.9 1659.8H687.9M669.9 1659.8L669.9 1663.5L672.9 1676.0L675.9 1667.3L675.9 1659.8M684.9 1659.8L684.9 1681.2L687.9 1661.7L687.9 1659.8M726.9 1659.8H750.9M726.9 1659.8L726.9 1680.1M798.9 1659.8H801.9M801.9 1659.8L801.9 1661.3M852.9 1659.8H1336.0M852.9 1659.8L852.9 1678.2L855.9 1666.6L855.9 1659.8M861.9 1659.8L861.9 1678.6L865.0 1664.4L868.0 1670.2L868.0 1659.8M874.0 1659.8L874.0 1689.1L877.0 1669.7L880.0 1672.6L880.0 1659.8M889.0 1659.8L889.0 1665.0M895.0 1659.8L895.0 1674.6L898.0 1668.1L898.0 1659.8M910.0 1659.8L910.0 1671.1M916.0 1659.8L916.0 1672.6M922.0 1659.8L922.0 1678.5M928.0 1659.8L928.0 1690.6L931.0 1663.9L934.0 1662.9L937.0 1678.1L940.0 1678.6L940.0 1659.8M949.0 1659.8L949.0 1671.6M955.0 1659.8L955.0 1672.4M961.0 1659.8L961.0 1675.6M967.0 1659.8L967.0 1677.1L970.0 1681.0L970.0 1659.8M976.0 1659.8L976.0 1690.6M982.0 1659.8L982.0 1674.1L985.0 1676.2L985.0 1659.8M991.0 1659.8L991.0 1671.1L994.0 1678.4L994.0 1659.8M1000.0 1659.8L1000.0 1667.6L1003.0 1671.1L1003.0 1659.8M1009.0 1659.8L1009.0 1675.9M1018.0 1659.8L1018.0 1669.9M1024.0 1659.8L1024.0 1684.6L1027.0 1681.3L1030.0 1687.6L1030.0 1659.8M1036.0 1659.8L1036.0 1664.9L1039.0 1665.2L1039.0 1659.8M1048.0 1659.8L1048.0 1665.0L1051.0 1664.0L1054.0 1665.8L1054.0 1659.8M1063.0 1659.8L1063.0 1683.1L1066.0 1666.7L1066.0 1659.8M1072.0 1659.8L1072.0 1665.0L1075.0 1670.3L1075.0 1659.8M1084.0 1659.8L1084.0 1663.8M1090.0 1659.8L1090.0 1676.1L1093.0 1665.6L1096.0 1687.6L1096.0 1659.8M1111.0 1659.8L1111.0 1664.0L1114.0 1668.1L1117.0 1674.1L1120.0 1677.1L1123.0 1679.7L1126.0 1684.6L1129.0 1664.3L1129.0 1659.8M1135.0 1659.8L1135.0 1680.1L1138.0 1668.8L1138.0 1659.8M1144.0 1659.8L1144.0 1696.6M1150.0 1659.8L1150.0 1668.1M1156.0 1659.8L1156.0 1678.2L1159.0 1677.4L1162.0 1680.1L1165.0 1679.1L1165.0 1659.8M1171.0 1659.8L1171.0 1666.8L1174.0 1674.1L1174.0 1659.8M1180.0 1659.8L1180.0 1683.1L1183.0 1674.8L1186.0 1670.7L1186.0 1659.8M1192.0 1659.8L1192.0 1681.6M1198.0 1659.8L1198.0 1695.1L1201.0 1674.4L1201.0 1659.8M1207.0 1659.8L1207.0 1666.3L1210.0 1672.6L1213.0 1677.8L1213.0 1659.8M1219.0 1659.8L1219.0 1675.0L1222.0 1696.6L1222.0 1659.8M1231.0 1659.8L1231.0 1692.1M1240.0 1659.8L1240.0 1674.7L1243.0 1684.6L1243.0 1659.8M1252.0 1659.8L1252.0 1669.3L1255.0 1680.1L1258.0 1680.7L1261.0 1680.4L1264.0 1690.6L1264.0 1659.8M1270.0 1659.8L1270.0 1692.1L1273.0 1675.5L1273.0 1659.8M1279.0 1659.8L1279.0 1666.6M1285.0 1659.8L1285.0 1680.1L1288.0 1668.9L1291.0 1693.6L1291.0 1659.8M1297.0 1659.8L1297.0 1677.1M1303.0 1659.8L1303.0 1681.6L1306.0 1686.1L1309.0 1672.1L1312.0 1670.9L1315.0 1677.1L1315.0 1659.8M1321.0 1659.8L1321.0 1667.6L1324.0 1682.1L1327.0 1672.5L1330.0 1675.6L1330.0 1659.8" fill="none" stroke="#ff0000" stroke-width="5.80" stroke-linejoin="round" stroke-linecap="square"/>
<line x1="338.64" y1="1659.78" x2="1383.20" y2="1659.78" stroke="#000" stroke-width="2.92" stroke-dasharray="2.92 4.81"/>
<path d="M363.90 1712.80V1692.40M663.93 1712.80V1692.40M963.96 1712.80V1692.40M1263.99 1712.80V1692.40M338.64 1697.40H359.04M338.64 1509.30H359.04" stroke="#000" stroke-width="4.67" fill="none"/>
<text x="348.24" y="1424.40">May</text>
<text x="316.5" y="1718.90" text-anchor="end">0</text>
<text x="316.5" y="1530.80" text-anchor="end">500</text>
<path d="M1429.5 1659.8H1432.5M1432.5 1659.8L1432.5 1594.3M1606.5 1659.8H1648.5M1606.5 1659.8L1606.5 1604.9L1609.5 1607.5L1612.5 1622.2L1612.5 1659.8M1636.5 1659.8L1636.5 1637.2L1639.5 1601.8L1642.5 1641.0L1645.5 1569.9L1645.5 1659.8M1687.5 1659.8H1693.5M1687.5 1659.8L1687.5 1641.0L1690.5 1590.2L1690.5 1659.8M1708.5 1659.8H1732.5M1720.5 1659.8L1720.5 1652.3L1723.5 1644.0L1726.5 1648.5L1729.5 1639.5L1729.5 1659.8M1771.5 1659.8H1795.5M1777.5 1659.8L1777.5 1641.7L1780.5 1652.3L1783.5 1622.2L1786.5 1543.5L1786.5 1659.8M1843.5 1659.8H1846.5M1843.5 1659.8L1843.5 1647.0M1870.5 1659.8L1870.5 1622.2M1882.5 1659.8L1882.5 1624.0M1897.5 1659.8H2377.6M1912.5 1659.8L1912.5 1653.8M1918.5 1659.8L1918.5 1630.8L1921.5 1633.8L1921.5 1659.8M1933.5 1659.8L1933.5 1609.4L1936.5 1627.8L1936.5 1659.8M1942.5 1659.8L1942.5 1650.5M1948.5 1659.8L1948.5 1655.4L1951.5 1627.8L1951.5 1659.8M1960.5 1659.8L1960.5 1604.9M1966.5 1659.8L1966.5 1558.2M1975.5 1659.8L1975.5 1532.6M1981.5 1659.8L1981.5 1656.4M1987.5 1659.8L1987.5 1649.3M1993.5 1659.8L1993.5 1626.3M2002.5 1659.8L2002.5 1638.3M2011.5 1659.8L2011.5 1598.8M2017.5 1659.8L2017.5 1537.1M2023.5 1659.8L2023.5 1626.3L2026.5 1652.1L2029.5 1652.3L2029.5 1659.8M2035.5 1659.8L2035.5 1498.0M2041.5 1659.8L2041.5 1574.8L2044.5 1653.8L2047.5 1623.3L2047.5 1659.8M2053.5 1659.8L2053.5 1461.9M2065.5 1659.8L2065.5 1650.1L2068.5 1573.3L2068.5 1659.8M2080.5 1659.8L2080.5 1621.8M2101.5 1659.8L2101.5 1657.8M2107.5 1659.8L2107.5 1598.8L2110.5 1653.6L2110.5 1659.8M2116.5 1659.8L2116.5 1607.9L2119.5 1607.9L2119.5 1659.8M2125.5 1659.8L2125.5 1657.9L2128.5 1589.4L2128.5 1659.8M2134.5 1659.8L2134.5 1615.8M2140.5 1659.8L2140.5 1656.5M2146.5 1659.8L2146.5 1628.6M2152.5 1659.8L2152.5 1648.9M2164.5 1659.8L2164.5 1626.7M2176.5 1659.8L2176.5 1617.3M2188.5 1659.8L2188.5 1650.4M2197.5 1659.8L2197.5 1655.0M2203.5 1659.8L2203.5 1631.6M2209.5 1659.8L2209.5 1610.5M2215.5 1659.8L2215.5 1654.9L2218.5 1630.8L2218.5 1659.8M2224.5 1659.8L2224.5 1648.9M2233.5 1659.8L2233.5 1618.8M2239.5 1659.8L2239.5 1651.7L2242.5 1618.8L2242.5 1659.8M2248.5 1659.8L2248.5 1623.3M2260.5 1659.8L2260.5 1650.8M2266.5 1659.8L2266.5 1641.3M2272.5 1659.8L2272.5 1615.8M2278.5 1659.8L2278.5 1648.8M2284.5 1659.8L2284.5 1577.8M2293.5 1659.8L2293.5 1648.9M2299.5 1659.8L2299.5 1641.7L2302.5 1652.3L2305.5 1650.8L2305.5 1659.8M2314.6 1659.8L2314.6 1647.4M2320.6 1659.8L2320.6 1656.6L2323.6 1650.8L2323.6 1659.8M2329.6 1659.8L2329.6 1654.8L2332.6 1641.3L2332.6 1659.8M2338.6 1659.8L2338.6 1612.8M2350.6 1659.8L2350.6 1649.2L2353.6 1657.2L2356.6 1626.3L2356.6 1659.8M2362.6 1659.8L2362.6 1650.9M2368.6 1659.8L2368.6 1592.8M2377.6 1659.8L2377.6 1565.7" fill="none" stroke="#0000ff" stroke-width="5.80" stroke-linejoin="round" stroke-linecap="square"/>
<path d="M1429.5 1659.8H1432.5M1429.5 1659.8L1429.5 1677.5M1510.5 1659.8H1513.5M1510.5 1659.8L1510.5 1682.0M1606.5 1659.8H1648.5M1618.5 1659.8L1618.5 1680.5L1621.5 1661.7L1624.5 1663.5L1627.5 1665.4L1630.5 1680.5L1633.5 1661.7L1633.5 1659.8M1648.5 1659.8L1648.5 1668.8M1708.5 1659.8H1732.5M1708.5 1659.8L1708.5 1667.3L1711.5 1663.5L1714.5 1678.6L1717.5 1694.0L1717.5 1659.8M1732.5 1659.8L1732.5 1668.8M1771.5 1659.8H1795.5M1774.5 1659.8L1774.5 1691.4M1789.5 1659.8L1789.5 1663.5L1792.5 1691.4L1795.5 1674.8L1795.5 1659.8M1843.5 1659.8H1846.5M1846.5 1659.8L1846.5 1689.9M1897.5 1659.8H2377.6M1897.5 1659.8L1897.5 1673.4L1900.5 1688.0L1903.5 1680.4L1906.5 1669.8L1909.5 1685.0L1909.5 1659.8M1915.5 1659.8L1915.5 1677.9M1924.5 1659.8L1924.5 1677.0L1927.5 1662.8L1930.5 1663.9L1930.5 1659.8M1939.5 1659.8L1939.5 1680.5M1945.5 1659.8L1945.5 1692.5M1954.5 1659.8L1954.5 1678.4L1957.5 1663.7L1957.5 1659.8M1963.5 1659.8L1963.5 1685.0M1969.5 1659.8L1969.5 1668.4L1972.5 1665.1L1972.5 1659.8M1978.5 1659.8L1978.5 1674.5M1984.5 1659.8L1984.5 1682.0M1990.5 1659.8L1990.5 1669.9M1996.5 1659.8L1996.5 1669.6L1999.5 1680.5L1999.5 1659.8M2005.5 1659.8L2005.5 1664.3L2008.5 1666.9L2008.5 1659.8M2014.5 1659.8L2014.5 1667.1M2020.5 1659.8L2020.5 1679.0M2032.5 1659.8L2032.5 1676.6M2038.5 1659.8L2038.5 1671.1M2050.5 1659.8L2050.5 1663.1M2056.5 1659.8L2056.5 1695.5L2059.5 1674.3L2062.5 1677.5L2062.5 1659.8M2071.5 1659.8L2071.5 1680.6L2074.5 1670.8L2077.5 1663.8L2077.5 1659.8M2083.5 1659.8L2083.5 1686.5L2086.5 1677.8L2089.5 1682.0L2092.5 1674.5L2095.5 1682.0L2098.5 1685.0L2098.5 1659.8M2104.5 1659.8L2104.5 1668.6M2113.5 1659.8L2113.5 1692.5M2122.5 1659.8L2122.5 1691.0M2131.5 1659.8L2131.5 1664.0M2137.5 1659.8L2137.5 1689.5M2143.5 1659.8L2143.5 1689.5M2149.5 1659.8L2149.5 1679.1M2155.5 1659.8L2155.5 1670.0L2158.5 1677.5L2161.5 1697.0L2161.5 1659.8M2167.5 1659.8L2167.5 1676.2L2170.5 1686.5L2173.5 1677.8L2173.5 1659.8M2179.5 1659.8L2179.5 1673.1L2182.5 1674.5L2185.5 1671.3L2185.5 1659.8M2191.5 1659.8L2191.5 1679.0L2194.5 1674.1L2194.5 1659.8M2200.5 1659.8L2200.5 1671.3M2206.5 1659.8L2206.5 1685.0M2212.5 1659.8L2212.5 1668.4M2221.5 1659.8L2221.5 1681.9M2227.5 1659.8L2227.5 1677.7L2230.5 1674.5L2230.5 1659.8M2236.5 1659.8L2236.5 1692.5M2245.5 1659.8L2245.5 1685.0M2251.5 1659.8L2251.5 1674.1L2254.5 1689.5L2257.5 1675.4L2257.5 1659.8M2263.5 1659.8L2263.5 1682.0M2269.5 1659.8L2269.5 1673.4M2275.5 1659.8L2275.5 1686.5M2281.5 1659.8L2281.5 1673.5M2287.5 1659.8L2287.5 1688.0L2290.5 1672.0L2290.5 1659.8M2296.5 1659.8L2296.5 1669.9M2308.6 1659.8L2308.6 1695.5L2311.6 1675.4L2311.6 1659.8M2317.6 1659.8L2317.6 1680.5M2326.6 1659.8L2326.6 1692.5M2335.6 1659.8L2335.6 1668.9M2341.6 1659.8L2341.6 1679.0L2344.6 1664.4L2347.6 1683.5L2347.6 1659.8M2359.6 1659.8L2359.6 1689.5M2365.6 1659.8L2365.6 1695.5M2371.6 1659.8L2371.6 1692.5L2374.6 1674.8L2374.6 1659.8" fill="none" stroke="#ff0000" stroke-width="5.80" stroke-linejoin="round" stroke-linecap="square"/>
<line x1="1383.20" y1="1659.78" x2="2428.20" y2="1659.78" stroke="#000" stroke-width="2.92" stroke-dasharray="2.92 4.81"/>
<path d="M1408.46 1712.80V1692.40M1708.49 1712.80V1692.40M2008.52 1712.80V1692.40M2308.55 1712.80V1692.40M1383.20 1697.40H1403.60M1383.20 1509.30H1403.60" stroke="#000" stroke-width="4.67" fill="none"/>
<text x="1392.80" y="1424.40">Jun</text>
<path d="M465.9 1996.8H468.9M465.9 1996.8L465.9 1973.8M561.9 1996.8H603.9M603.9 1996.8L603.9 1962.9M639.9 1996.8H651.9M648.9 1996.8L648.9 1887.7M663.9 1996.8H687.9M675.9 1996.8L675.9 1727.4M681.9 1996.8L681.9 1903.9L684.9 1937.3L684.9 1996.8M726.9 1996.8H750.9M729.9 1996.8L729.9 1958.4M738.9 1996.8L738.9 1940.4L741.9 1885.0L741.9 1996.8M852.9 1996.8H1333.0M868.0 1996.8L868.0 1853.1M874.0 1996.8L874.0 1988.3M880.0 1996.8L880.0 1961.8M889.0 1996.8L889.0 1963.3L892.0 1990.5L892.0 1996.8M910.0 1996.8L910.0 1981.4M931.0 1996.8L931.0 1992.8M943.0 1996.8L943.0 1753.8M952.0 1996.8L952.0 1892.2L955.0 1937.7L958.0 1987.9L958.0 1996.8M967.0 1996.8L967.0 1992.7M979.0 1996.8L979.0 1991.0L982.0 1949.8L982.0 1996.8M988.0 1996.8L988.0 1938.8M1000.0 1996.8L1000.0 1988.8L1003.0 1954.3L1003.0 1996.8M1012.0 1996.8L1012.0 1960.3M1024.0 1996.8L1024.0 1868.1M1039.0 1996.8L1039.0 1955.8M1051.0 1996.8L1051.0 1991.6M1057.0 1996.8L1057.0 1885.4M1066.0 1996.8L1066.0 1976.8M1078.0 1996.8L1078.0 1988.3M1090.0 1996.8L1090.0 1952.8M1102.0 1996.8L1102.0 1988.9M1108.0 1996.8L1108.0 1983.6M1114.0 1996.8L1114.0 1990.9L1117.0 1991.9L1120.0 1960.7L1120.0 1996.8M1129.0 1996.8L1129.0 1988.9M1150.0 1996.8L1150.0 1991.6M1162.0 1996.8L1162.0 1987.8M1180.0 1996.8L1180.0 1992.6M1189.0 1996.8L1189.0 1929.4M1198.0 1996.8L1198.0 1890.3M1210.0 1996.8L1210.0 1971.6M1222.0 1996.8L1222.0 1972.3M1231.0 1996.8L1231.0 1980.6M1240.0 1996.8L1240.0 1988.2M1249.0 1996.8L1249.0 1990.5M1270.0 1996.8L1270.0 1903.5M1279.0 1996.8L1279.0 1966.7L1282.0 1994.6L1282.0 1996.8M1294.0 1996.8L1294.0 1851.6M1306.0 1996.8L1306.0 1792.1L1309.0 1993.9L1309.0 1996.8M1318.0 1996.8L1318.0 1887.3M1330.0 1996.8L1330.0 1988.5" fill="none" stroke="#0000ff" stroke-width="5.80" stroke-linejoin="round" stroke-linecap="square"/>
<path d="M384.9 1996.8H387.9M384.9 1996.8L384.9 2026.9L387.9 2033.3L387.9 1996.8M465.9 1996.8H468.9M468.9 1996.8L468.9 2031.8M561.9 1996.8H603.9M561.9 1996.8L561.9 2031.8L564.9 2019.4L567.9 2011.8L570.9 2029.1L573.9 2015.6L576.9 2020.5L579.9 2004.3L582.9 2011.8L585.9 2031.8L588.9 2007.3L591.9 2023.1L594.9 2027.6L597.9 2015.6L600.9 2027.6L600.9 1996.8M639.9 1996.8H651.9M639.9 1996.8L639.9 2019.0L642.9 2011.8L645.9 2019.4L645.9 1996.8M651.9 1996.8L651.9 2023.1M663.9 1996.8H687.9M663.9 1996.8L663.9 2011.8L666.9 2030.6L669.9 2011.8L669.9 1996.8M678.9 1996.8L678.9 2019.0M687.9 1996.8L687.9 2020.5M726.9 1996.8H750.9M726.9 1996.8L726.9 2011.8M732.9 1996.8L732.9 2031.8M744.9 1996.8L744.9 2011.8L747.9 2033.3L750.9 2019.4L750.9 1996.8M795.9 1996.8H798.9M795.9 1996.8L795.9 2023.1L798.9 2030.6L798.9 1996.8M825.9 1996.8L825.9 2018.2M840.9 1996.8L840.9 2021.6M852.9 1996.8H1333.0M852.9 1996.8L852.9 2021.8L855.9 2031.0L858.9 2017.1L861.9 2020.5L865.0 2024.1L865.0 1996.8M871.0 1996.8L871.0 2015.6M877.0 1996.8L877.0 2034.0M883.0 1996.8L883.0 2016.0L886.0 2014.2L886.0 1996.8M895.0 1996.8L895.0 2026.5L898.0 2029.2L901.0 2006.0L904.0 2034.0L907.0 2016.6L907.0 1996.8M913.0 1996.8L913.0 2028.0L916.0 2023.1L919.0 2004.8L922.0 2029.5L925.0 2028.6L928.0 2029.5L928.0 1996.8M934.0 1996.8L934.0 2029.1L937.0 2017.5L940.0 2023.7L940.0 1996.8M946.0 1996.8L946.0 2031.0L949.0 2014.6L949.0 1996.8M961.0 1996.8L961.0 2013.0L964.0 2005.1L964.0 1996.8M970.0 1996.8L970.0 2009.9L973.0 2004.6L976.0 2022.3L976.0 1996.8M985.0 1996.8L985.0 2000.9M991.0 1996.8L991.0 2012.7L994.0 2032.5L997.0 2016.1L997.0 1996.8M1006.0 1996.8L1006.0 2017.5L1009.0 2026.5L1009.0 1996.8M1015.0 1996.8L1015.0 2028.8L1018.0 2032.5L1021.0 2016.0L1021.0 1996.8M1027.0 1996.8L1027.0 2029.3L1030.0 2032.5L1033.0 2030.0L1036.0 2017.2L1036.0 1996.8M1042.0 1996.8L1042.0 2023.5L1045.0 2017.8L1048.0 2020.5L1048.0 1996.8M1054.0 1996.8L1054.0 2025.0M1060.0 1996.8L1060.0 2021.8L1063.0 2016.3L1063.0 1996.8M1069.0 1996.8L1069.0 2031.0L1072.0 2006.4L1075.0 2025.0L1075.0 1996.8M1081.0 1996.8L1081.0 2029.5L1084.0 2004.7L1087.0 2030.6L1087.0 1996.8M1093.0 1996.8L1093.0 2022.3L1096.0 2012.9L1099.0 2029.5L1099.0 1996.8M1105.0 1996.8L1105.0 2011.4M1111.0 1996.8L1111.0 2032.5M1123.0 1996.8L1123.0 2016.0L1126.0 2030.8L1126.0 1996.8M1132.0 1996.8L1132.0 2028.0L1135.0 2010.2L1138.0 2032.5L1141.0 2006.5L1144.0 2010.6L1147.0 2023.5L1147.0 1996.8M1153.0 1996.8L1153.0 2024.7L1156.0 2023.5L1159.0 2011.1L1159.0 1996.8M1165.0 1996.8L1165.0 2032.5L1168.0 2012.1L1171.0 2013.0L1174.0 2015.8L1177.0 2012.6L1177.0 1996.8M1183.0 1996.8L1183.0 2019.5L1186.0 2019.0L1186.0 1996.8M1192.0 1996.8L1192.0 2025.0L1195.0 2030.1L1195.0 1996.8M1201.0 1996.8L1201.0 2026.5L1204.0 2021.4L1207.0 2023.6L1207.0 1996.8M1213.0 1996.8L1213.0 2022.0L1216.0 2032.5L1219.0 2010.2L1219.0 1996.8M1225.0 1996.8L1225.0 2007.7L1228.0 2019.0L1228.0 1996.8M1234.0 1996.8L1234.0 2018.4L1237.0 2025.0L1237.0 1996.8M1243.0 1996.8L1243.0 2029.3L1246.0 2032.5L1246.0 1996.8M1252.0 1996.8L1252.0 2012.1L1255.0 2028.0L1258.0 2023.8L1261.0 2026.5L1264.0 2011.2L1267.0 2005.8L1267.0 1996.8M1273.0 1996.8L1273.0 2030.0L1276.0 2028.0L1276.0 1996.8M1285.0 1996.8L1285.0 2034.0L1288.0 2006.0L1291.0 2026.9L1291.0 1996.8M1297.0 1996.8L1297.0 2032.5L1300.0 2006.6L1303.0 2025.3L1303.0 1996.8M1312.0 1996.8L1312.0 2028.0L1315.0 2013.0L1315.0 1996.8M1321.0 1996.8L1321.0 2010.5L1324.0 2017.1L1327.0 2034.0L1327.0 1996.8M1333.0 1996.8L1333.0 2029.5" fill="none" stroke="#ff0000" stroke-width="5.80" stroke-linejoin="round" stroke-linecap="square"/>
<line x1="338.64" y1="1996.78" x2="1383.20" y2="1996.78" stroke="#000" stroke-width="2.92" stroke-dasharray="2.92 4.81"/>
<path d="M363.90 2049.80V2029.40M663.93 2049.80V2029.40M963.96 2049.80V2029.40M1263.99 2049.80V2029.40M338.64 2034.40H359.04M338.64 1846.30H359.04" stroke="#000" stroke-width="4.67" fill="none"/>
<text x="348.24" y="1761.40">Jul</text>
<text x="316.5" y="2055.90" text-anchor="end">0</text>
<text x="316.5" y="1867.80" text-anchor="end">500</text>
<path d="M1429.5 1996.8H1432.5M1429.5 1996.8L1429.5 1906.9L1432.5 1994.9L1432.5 1996.8M1510.5 1996.8H1513.5M1513.5 1996.8L1513.5 1948.3M1606.5 1996.8H1648.5M1606.5 1996.8L1606.5 1984.4M1618.5 1996.8L1618.5 1950.5L1621.5 1978.0L1624.5 1923.4L1624.5 1996.8M1633.5 1996.8L1633.5 1958.4M1645.5 1996.8L1645.5 1883.9L1648.5 1826.7L1648.5 1996.8M1684.5 1996.8H1696.5M1690.5 1996.8L1690.5 1955.4M1708.5 1996.8H1732.5M1717.5 1996.8L1717.5 1958.4M1723.5 1996.8L1723.5 1989.3L1726.5 1974.6L1726.5 1996.8M1771.5 1996.8H1795.5M1789.5 1996.8L1789.5 1979.5M1840.5 1996.8H1843.5M1840.5 1996.8L1840.5 1981.7L1843.5 1972.3L1843.5 1996.8M1870.5 1996.8L1870.5 1982.5M1882.5 1996.8L1882.5 1979.5M1897.5 1996.8H2377.6M1897.5 1996.8L1897.5 1993.0M1906.5 1996.8L1906.5 1944.9M1915.5 1996.8L1915.5 1991.1L1918.5 1914.8L1918.5 1996.8M1933.5 1996.8L1933.5 1992.2L1936.5 1949.4L1936.5 1996.8M1948.5 1996.8L1948.5 1976.8M1963.5 1996.8L1963.5 1920.8L1966.5 1946.4L1966.5 1996.8M1984.5 1996.8L1984.5 1941.9M1993.5 1996.8L1993.5 1992.0L1996.5 1793.6L1996.5 1996.8M2011.5 1996.8L2011.5 1993.4M2023.5 1996.8L2023.5 1853.8M2032.5 1996.8L2032.5 1955.8L2035.5 1946.4L2035.5 1996.8M2050.5 1996.8L2050.5 1983.6M2056.5 1996.8L2056.5 1947.5M2065.5 1996.8L2065.5 1993.6L2068.5 1963.7L2071.5 1989.4L2071.5 1996.8M2080.5 1996.8L2080.5 1986.6L2083.5 1995.0L2086.5 1991.8L2086.5 1996.8M2110.5 1996.8L2110.5 1990.4L2113.5 1893.3L2113.5 1996.8M2119.5 1996.8L2119.5 1982.9M2125.5 1996.8L2125.5 1979.9M2137.5 1996.8L2137.5 1995.0M2152.5 1996.8L2152.5 1990.6M2164.5 1996.8L2164.5 1933.6M2170.5 1996.8L2170.5 1979.9M2182.5 1996.8L2182.5 1987.8L2185.5 1957.3L2185.5 1996.8M2197.5 1996.8L2197.5 1937.3M2206.5 1996.8L2206.5 1768.8M2212.5 1996.8L2212.5 1944.9M2218.5 1996.8L2218.5 1944.9M2227.5 1996.8L2227.5 1994.9L2230.5 1988.2L2233.5 1893.7L2233.5 1996.8M2239.5 1996.8L2239.5 1921.5M2260.5 1996.8L2260.5 1911.4M2266.5 1996.8L2266.5 1987.8M2275.5 1996.8L2275.5 1985.9L2278.5 1991.6L2281.5 1932.8L2281.5 1996.8M2287.5 1996.8L2287.5 1988.7M2296.5 1996.8L2296.5 1960.3M2314.6 1996.8L2314.6 1896.7M2326.6 1996.8L2326.6 1994.1L2329.6 1947.9L2329.6 1996.8M2335.6 1996.8L2335.6 1991.4L2338.6 1957.3L2338.6 1996.8M2344.6 1996.8L2344.6 1984.4L2347.6 1988.9L2347.6 1996.8M2353.6 1996.8L2353.6 1842.5M2368.6 1996.8L2368.6 1972.3M2377.6 1996.8L2377.6 1937.3" fill="none" stroke="#0000ff" stroke-width="5.80" stroke-linejoin="round" stroke-linecap="square"/>
<path d="M1510.5 1996.8H1513.5M1510.5 1996.8L1510.5 2017.5M1606.5 1996.8H1648.5M1609.5 1996.8L1609.5 2004.3L1612.5 2033.3L1612.5 1996.8M1630.5 1996.8L1630.5 2017.5M1636.5 1996.8L1636.5 2021.6L1639.5 2011.8L1642.5 2029.1L1642.5 1996.8M1684.5 1996.8H1696.5M1684.5 1996.8L1684.5 2001.3M1693.5 1996.8L1693.5 2015.6L1696.5 2031.8L1696.5 1996.8M1708.5 1996.8H1732.5M1708.5 1996.8L1708.5 2000.5L1711.5 2023.1L1714.5 2011.8L1714.5 1996.8M1720.5 1996.8L1720.5 2031.8M1729.5 1996.8L1729.5 2004.3L1732.5 2021.6L1732.5 1996.8M1771.5 1996.8H1795.5M1771.5 1996.8L1771.5 2000.5L1774.5 2015.6L1777.5 2033.3L1780.5 2019.4L1783.5 2008.1L1786.5 2000.5L1786.5 1996.8M1792.5 1996.8L1792.5 2004.3L1795.5 2020.5L1795.5 1996.8M1897.5 1996.8H2377.6M1900.5 1996.8L1900.5 2019.5L1903.5 2025.9L1903.5 1996.8M1909.5 1996.8L1909.5 2019.6L1912.5 2014.5L1912.5 1996.8M1921.5 1996.8L1921.5 2016.0L1924.5 2031.1L1927.5 2019.0L1930.5 2027.4L1930.5 1996.8M1939.5 1996.8L1939.5 2034.0L1942.5 2007.4L1945.5 2034.0L1945.5 1996.8M1951.5 1996.8L1951.5 2031.0L1954.5 2031.4L1957.5 2028.0L1960.5 2030.5L1960.5 1996.8M1969.5 1996.8L1969.5 2016.0L1972.5 2019.1L1975.5 2016.0L1978.5 2013.1L1981.5 2032.4L1981.5 1996.8M1987.5 1996.8L1987.5 2014.7L1990.5 2031.0L1990.5 1996.8M1999.5 1996.8L1999.5 2023.2L2002.5 2020.5L2005.5 2019.0L2008.5 2013.8L2008.5 1996.8M2014.5 1996.8L2014.5 2018.3L2017.5 2032.5L2020.5 2020.0L2020.5 1996.8M2026.5 1996.8L2026.5 2032.5L2029.5 2009.7L2029.5 1996.8M2038.5 1996.8L2038.5 2024.4L2041.5 2003.9L2044.5 2018.3L2047.5 2031.0L2047.5 1996.8M2053.5 1996.8L2053.5 2032.5M2059.5 1996.8L2059.5 2021.9L2062.5 2028.0L2062.5 1996.8M2074.5 1996.8L2074.5 2009.9L2077.5 2015.0L2077.5 1996.8M2089.5 1996.8L2089.5 2031.0L2092.5 2007.0L2095.5 2007.6L2098.5 2022.0L2101.5 2021.0L2104.5 2034.0L2107.5 2028.6L2107.5 1996.8M2116.5 1996.8L2116.5 2020.5M2122.5 1996.8L2122.5 2023.3M2128.5 1996.8L2128.5 2028.2L2131.5 2028.0L2134.5 2013.9L2134.5 1996.8M2140.5 1996.8L2140.5 2022.0L2143.5 2013.7L2146.5 2020.5L2149.5 2014.0L2149.5 1996.8M2155.5 1996.8L2155.5 2020.5L2158.5 2022.2L2161.5 2022.7L2161.5 1996.8M2167.5 1996.8L2167.5 2014.3M2173.5 1996.8L2173.5 2034.0L2176.5 2016.8L2179.5 2031.0L2179.5 1996.8M2188.5 1996.8L2188.5 2012.4L2191.5 2034.0L2194.5 2021.3L2194.5 1996.8M2200.5 1996.8L2200.5 2012.5L2203.5 2025.7L2203.5 1996.8M2209.5 1996.8L2209.5 2009.9M2215.5 1996.8L2215.5 2009.6M2221.5 1996.8L2221.5 2029.5L2224.5 2029.7L2224.5 1996.8M2236.5 1996.8L2236.5 2019.9M2242.5 1996.8L2242.5 2025.0L2245.5 2014.8L2248.5 2034.0L2251.5 2028.9L2254.5 2031.2L2257.5 2013.5L2257.5 1996.8M2263.5 1996.8L2263.5 2015.8M2269.5 1996.8L2269.5 2026.7L2272.5 2017.5L2272.5 1996.8M2284.5 1996.8L2284.5 2013.5M2290.5 1996.8L2290.5 2032.5L2293.5 2027.4L2293.5 1996.8M2299.5 1996.8L2299.5 2032.5L2302.5 2006.9L2305.5 2026.5L2308.6 2021.2L2311.6 2032.5L2311.6 1996.8M2317.6 1996.8L2317.6 2006.2L2320.6 2032.5L2323.6 2026.7L2323.6 1996.8M2332.6 1996.8L2332.6 2031.0M2341.6 1996.8L2341.6 2031.0M2350.6 1996.8L2350.6 2032.5M2356.6 1996.8L2356.6 2031.1L2359.6 2031.0L2362.6 2031.3L2365.6 2031.0L2365.6 1996.8M2371.6 1996.8L2371.6 2028.0L2374.6 2028.8L2374.6 1996.8" fill="none" stroke="#ff0000" stroke-width="5.80" stroke-linejoin="round" stroke-linecap="square"/>
<line x1="1383.20" y1="1996.78" x2="2428.20" y2="1996.78" stroke="#000" stroke-width="2.92" stroke-dasharray="2.92 4.81"/>
<path d="M1408.46 2049.80V2029.40M1708.49 2049.80V2029.40M2008.52 2049.80V2029.40M2308.55 2049.80V2029.40M1383.20 2034.40H1403.60M1383.20 1846.30H1403.60" stroke="#000" stroke-width="4.67" fill="none"/>
<text x="1392.80" y="1761.40">Aug</text>
<path d="M384.9 2333.8H387.9M384.9 2333.8L384.9 2315.0L387.9 2301.8L387.9 2333.8M561.9 2333.8H603.9M567.9 2333.8L567.9 2303.3M582.9 2333.8L582.9 2315.0L585.9 2301.8L588.9 2318.7L591.9 2307.4L594.9 2296.2L597.9 2263.1L597.9 2333.8M603.9 2333.8L603.9 2325.1M639.9 2333.8H651.9M645.9 2333.8L645.9 2323.6L648.9 2326.3L651.9 2313.5L651.9 2333.8M663.9 2333.8H687.9M684.9 2333.8L684.9 2293.9M726.9 2333.8H750.9M729.9 2333.8L729.9 2279.2L732.9 2326.3L732.9 2333.8M741.9 2333.8L741.9 2303.3M795.9 2333.8H798.9M795.9 2333.8L795.9 2326.3L798.9 2303.3L798.9 2333.8M825.9 2333.8H1336.0M828.9 2333.8L828.9 2301.1M834.9 2333.8L834.9 2331.1L837.9 2307.4L837.9 2333.8M849.9 2333.8L849.9 2319.1L852.9 2319.5L852.9 2333.8M858.9 2333.8L858.9 2326.8L861.9 2326.5L861.9 2333.8M868.0 2333.8L868.0 2264.2L871.0 2328.7L871.0 2333.8M880.0 2333.8L880.0 2328.1L883.0 2329.6L886.0 2316.5L886.0 2333.8M898.0 2333.8L898.0 2324.4M907.0 2333.8L907.0 2323.5L910.0 2245.4L910.0 2333.8M919.0 2333.8L919.0 2296.5M928.0 2333.8L928.0 2329.3M943.0 2333.8L943.0 2327.0L946.0 2330.4L946.0 2333.8M952.0 2333.8L952.0 2315.0L955.0 2327.5L955.0 2333.8M964.0 2333.8L964.0 2309.0M979.0 2333.8L979.0 2314.2M985.0 2333.8L985.0 2329.7M991.0 2333.8L991.0 2329.3L994.0 2330.6L997.0 2322.7L997.0 2333.8M1003.0 2333.8L1003.0 2312.3M1009.0 2333.8L1009.0 2328.8L1012.0 2281.5L1012.0 2333.8M1018.0 2333.8L1018.0 2324.3L1021.0 2331.6L1021.0 2333.8M1030.0 2333.8L1030.0 2327.1L1033.0 2331.1L1036.0 2328.0L1036.0 2333.8M1048.0 2333.8L1048.0 2321.0M1060.0 2333.8L1060.0 2314.2M1075.0 2333.8L1075.0 2295.0M1081.0 2333.8L1081.0 2318.0M1102.0 2333.8L1102.0 2319.5M1117.0 2333.8L1117.0 2313.5L1120.0 2327.3L1120.0 2333.8M1129.0 2333.8L1129.0 2326.4M1150.0 2333.8L1150.0 2296.5L1153.0 2331.5L1153.0 2333.8M1159.0 2333.8L1159.0 2249.1M1165.0 2333.8L1165.0 2263.1M1183.0 2333.8L1183.0 2275.5M1189.0 2333.8L1189.0 2288.3M1198.0 2333.8L1198.0 2328.9M1207.0 2333.8L1207.0 2316.5M1213.0 2333.8L1213.0 2318.0L1216.0 2326.1L1216.0 2333.8M1222.0 2333.8L1222.0 2326.3M1234.0 2333.8L1234.0 2272.5L1237.0 2329.2L1237.0 2333.8M1243.0 2333.8L1243.0 2294.3M1252.0 2333.8L1252.0 2328.2L1255.0 2324.9L1258.0 2294.3L1258.0 2333.8M1264.0 2333.8L1264.0 2328.5L1267.0 2299.2L1267.0 2333.8M1276.0 2333.8L1276.0 2324.7L1279.0 2324.1L1282.0 2332.0L1282.0 2333.8M1291.0 2333.8L1291.0 2323.2M1309.0 2333.8L1309.0 2327.3L1312.0 2284.5L1312.0 2333.8M1324.0 2333.8L1324.0 2327.8M1330.0 2333.8L1330.0 2325.0M1336.0 2333.8L1336.0 2318.0" fill="none" stroke="#0000ff" stroke-width="5.80" stroke-linejoin="round" stroke-linecap="square"/>
<path d="M465.9 2333.8L465.9 2367.3M561.9 2333.8H603.9M561.9 2333.8L561.9 2345.4L564.9 2337.5L564.9 2333.8M573.9 2333.8L573.9 2365.8L576.9 2337.5L579.9 2335.7L579.9 2333.8M600.9 2333.8L600.9 2355.2M639.9 2333.8H651.9M639.9 2333.8L639.9 2348.5L642.9 2337.5L642.9 2333.8M663.9 2333.8H687.9M663.9 2333.8L663.9 2350.0L666.9 2348.8L666.9 2333.8M672.9 2333.8L672.9 2352.6L675.9 2368.8L678.9 2356.4L681.9 2341.3L681.9 2333.8M687.9 2333.8L687.9 2335.7M726.9 2333.8H750.9M735.9 2333.8L735.9 2341.3L738.9 2360.1L738.9 2333.8M744.9 2333.8L744.9 2352.6L747.9 2360.1L750.9 2341.3L750.9 2333.8M825.9 2333.8H1336.0M825.9 2333.8L825.9 2357.3M831.9 2333.8L831.9 2345.4M840.9 2333.8L840.9 2349.1L843.9 2354.1L846.9 2361.4L846.9 2333.8M855.9 2333.8L855.9 2364.6M865.0 2333.8L865.0 2361.9M874.0 2333.8L874.0 2370.6L877.0 2355.9L877.0 2333.8M889.0 2333.8L889.0 2369.1L892.0 2355.0L895.0 2357.1L895.0 2333.8M901.0 2333.8L901.0 2365.0L904.0 2359.2L904.0 2333.8M913.0 2333.8L913.0 2345.1L916.0 2340.2L916.0 2333.8M922.0 2333.8L922.0 2363.1L925.0 2358.7L925.0 2333.8M931.0 2333.8L931.0 2354.1L934.0 2341.3L937.0 2364.6L940.0 2355.7L940.0 2333.8M949.0 2333.8L949.0 2364.6M958.0 2333.8L958.0 2348.1L961.0 2358.6L961.0 2333.8M967.0 2333.8L967.0 2349.4L970.0 2367.6L973.0 2345.8L976.0 2363.2L976.0 2333.8M982.0 2333.8L982.0 2358.6M988.0 2333.8L988.0 2357.1M1000.0 2333.8L1000.0 2360.1M1006.0 2333.8L1006.0 2354.1M1015.0 2333.8L1015.0 2346.6M1024.0 2333.8L1024.0 2363.1L1027.0 2344.2L1027.0 2333.8M1039.0 2333.8L1039.0 2355.6L1042.0 2348.6L1045.0 2352.5L1045.0 2333.8M1051.0 2333.8L1051.0 2358.6L1054.0 2352.2L1057.0 2357.1L1057.0 2333.8M1063.0 2333.8L1063.0 2339.7L1066.0 2352.6L1069.0 2352.3L1072.0 2356.5L1072.0 2333.8M1078.0 2333.8L1078.0 2340.0M1084.0 2333.8L1084.0 2354.1L1087.0 2346.8L1090.0 2348.1L1093.0 2357.7L1096.0 2343.9L1099.0 2367.6L1099.0 2333.8M1105.0 2333.8L1105.0 2352.7L1108.0 2365.4L1111.0 2355.6L1114.0 2359.0L1114.0 2333.8M1123.0 2333.8L1123.0 2360.1L1126.0 2340.0L1126.0 2333.8M1132.0 2333.8L1132.0 2340.5L1135.0 2366.1L1138.0 2365.4L1141.0 2342.3L1144.0 2344.8L1147.0 2363.1L1147.0 2333.8M1156.0 2333.8L1156.0 2363.1M1162.0 2333.8L1162.0 2350.1M1168.0 2333.8L1168.0 2348.1L1171.0 2350.4L1174.0 2370.6L1177.0 2339.6L1180.0 2352.6L1180.0 2333.8M1186.0 2333.8L1186.0 2349.1M1192.0 2333.8L1192.0 2342.9L1195.0 2364.6L1195.0 2333.8M1201.0 2333.8L1201.0 2360.0L1204.0 2369.1L1204.0 2333.8M1210.0 2333.8L1210.0 2366.1M1219.0 2333.8L1219.0 2341.0M1225.0 2333.8L1225.0 2366.1L1228.0 2345.2L1231.0 2354.1L1231.0 2333.8M1240.0 2333.8L1240.0 2339.0M1246.0 2333.8L1246.0 2359.8L1249.0 2343.0L1249.0 2333.8M1261.0 2333.8L1261.0 2363.9M1270.0 2333.8L1270.0 2354.0L1273.0 2354.1L1273.0 2333.8M1285.0 2333.8L1285.0 2358.6L1288.0 2357.4L1288.0 2333.8M1294.0 2333.8L1294.0 2351.1L1297.0 2359.5L1300.0 2354.1L1303.0 2356.6L1306.0 2363.1L1306.0 2333.8M1315.0 2333.8L1315.0 2346.6L1318.0 2358.6L1321.0 2350.7L1321.0 2333.8M1327.0 2333.8L1327.0 2341.1M1333.0 2333.8L1333.0 2363.1" fill="none" stroke="#ff0000" stroke-width="5.80" stroke-linejoin="round" stroke-linecap="square"/>
<line x1="338.64" y1="2333.78" x2="1383.20" y2="2333.78" stroke="#000" stroke-width="2.92" stroke-dasharray="2.92 4.81"/>
<path d="M363.90 2386.90V2366.50M663.93 2386.90V2366.50M963.96 2386.90V2366.50M1263.99 2386.90V2366.50M338.64 2371.40H359.04M338.64 2183.30H359.04" stroke="#000" stroke-width="4.67" fill="none"/>
<text x="348.24" y="2098.40">Sep</text>
<text x="316.5" y="2392.90" text-anchor="end">0</text>
<text x="316.5" y="2204.80" text-anchor="end">500</text>
<path d="M1510.5 2333.8H1513.5M1510.5 2333.8L1510.5 2329.3M1606.5 2333.8H1648.5M1606.5 2333.8L1606.5 2318.7L1609.5 2309.0L1612.5 2315.0L1612.5 2333.8M1618.5 2333.8L1618.5 2285.6L1621.5 2326.3L1624.5 2325.1L1624.5 2333.8M1639.5 2333.8L1639.5 2260.0L1642.5 2303.7L1645.5 2330.0L1645.5 2333.8M1684.5 2333.8H1696.5M1684.5 2333.8L1684.5 2296.9M1690.5 2333.8L1690.5 2310.5L1693.5 2322.5L1693.5 2333.8M1708.5 2333.8H1732.5M1714.5 2333.8L1714.5 2330.0L1717.5 2315.0L1720.5 2303.7L1723.5 2293.2L1723.5 2333.8M1729.5 2333.8L1729.5 2304.8L1732.5 2322.5L1732.5 2333.8M1771.5 2333.8H1795.5M1771.5 2333.8L1771.5 2330.0L1774.5 2315.0L1777.5 2297.3L1780.5 2326.3L1780.5 2333.8M1786.5 2333.8L1786.5 2316.5M1840.5 2333.8H1843.5M1843.5 2333.8L1843.5 2320.6M1873.5 2333.8H2377.6M1873.5 2333.8L1873.5 2328.7M1879.5 2333.8L1879.5 2319.1L1882.5 2332.1L1885.5 2303.3L1885.5 2333.8M1894.5 2333.8L1894.5 2298.0M1903.5 2333.8L1903.5 2321.0M1909.5 2333.8L1909.5 2326.2M1924.5 2333.8L1924.5 2223.9M1933.5 2333.8L1933.5 2301.1M1939.5 2333.8L1939.5 2331.4L1942.5 2304.1L1942.5 2333.8M1951.5 2333.8L1951.5 2305.6L1954.5 2330.3L1954.5 2333.8M1960.5 2333.8L1960.5 2331.4L1963.5 2309.3L1966.5 2326.5L1966.5 2333.8M1972.5 2333.8L1972.5 2326.9L1975.5 2279.2L1975.5 2333.8M1981.5 2333.8L1981.5 2325.8M1987.5 2333.8L1987.5 2284.5M1993.5 2333.8L1993.5 2298.0M2005.5 2333.8L2005.5 2311.2M2011.5 2333.8L2011.5 2322.8L2014.5 2312.3L2014.5 2333.8M2023.5 2333.8L2023.5 2306.3M2029.5 2333.8L2029.5 2251.4M2038.5 2333.8L2038.5 2324.0M2044.5 2333.8L2044.5 2321.0L2047.5 2328.6L2050.5 2317.2L2050.5 2333.8M2056.5 2333.8L2056.5 2308.2M2062.5 2333.8L2062.5 2330.2M2074.5 2333.8L2074.5 2307.1M2080.5 2333.8L2080.5 2315.3M2086.5 2333.8L2086.5 2329.8L2089.5 2326.1L2092.5 2313.5L2092.5 2333.8M2104.5 2333.8L2104.5 2319.5M2113.5 2333.8L2113.5 2260.4L2116.5 2323.8L2116.5 2333.8M2122.5 2333.8L2122.5 2293.2M2128.5 2333.8L2128.5 2292.0M2137.5 2333.8L2137.5 2331.5L2140.5 2315.3L2140.5 2333.8M2146.5 2333.8L2146.5 2276.2M2155.5 2333.8L2155.5 2304.1L2158.5 2327.9L2158.5 2333.8M2164.5 2333.8L2164.5 2294.3M2188.5 2333.8L2188.5 2266.1M2200.5 2333.8L2200.5 2266.1M2206.5 2333.8L2206.5 2292.0M2224.5 2333.8L2224.5 2330.8L2227.5 2325.6L2227.5 2333.8M2236.5 2333.8L2236.5 2310.5M2242.5 2333.8L2242.5 2324.4M2248.5 2333.8L2248.5 2304.1M2257.5 2333.8L2257.5 2324.4M2269.5 2333.8L2269.5 2298.0M2275.5 2333.8L2275.5 2322.5L2278.5 2309.0L2278.5 2333.8M2284.5 2333.8L2284.5 2261.9L2287.5 2281.5L2287.5 2333.8M2296.5 2333.8L2296.5 2323.8M2308.6 2333.8L2308.6 2322.5L2311.6 2325.1L2311.6 2333.8M2320.6 2333.8L2320.6 2329.3M2329.6 2333.8L2329.6 2329.1M2335.6 2333.8L2335.6 2326.2L2338.6 2325.5L2338.6 2333.8M2344.6 2333.8L2344.6 2320.2L2347.6 2323.0L2347.6 2333.8M2353.6 2333.8L2353.6 2299.5M2365.6 2333.8L2365.6 2296.2L2368.6 2323.6L2368.6 2333.8M2374.6 2333.8L2374.6 2328.1L2377.6 2305.6L2377.6 2333.8" fill="none" stroke="#0000ff" stroke-width="5.80" stroke-linejoin="round" stroke-linecap="square"/>
<path d="M1429.5 2333.8L1429.5 2343.9M1510.5 2333.8H1513.5M1513.5 2333.8L1513.5 2355.2M1606.5 2333.8H1648.5M1615.5 2333.8L1615.5 2336.8M1630.5 2333.8L1630.5 2361.6L1633.5 2345.1L1636.5 2348.5L1636.5 2333.8M1648.5 2333.8L1648.5 2355.2M1684.5 2333.8H1696.5M1687.5 2333.8L1687.5 2340.9M1696.5 2333.8L1696.5 2334.5M1708.5 2333.8H1732.5M1708.5 2333.8L1708.5 2361.6L1711.5 2337.5L1711.5 2333.8M1726.5 2333.8L1726.5 2360.9M1771.5 2333.8H1795.5M1783.5 2333.8L1783.5 2346.2M1789.5 2333.8L1789.5 2341.3L1792.5 2352.6L1795.5 2337.5L1795.5 2333.8M1840.5 2333.8H1843.5M1840.5 2333.8L1840.5 2354.1M1873.5 2333.8H2377.6M1876.5 2333.8L1876.5 2367.3M1888.5 2333.8L1888.5 2351.1L1891.5 2350.7L1891.5 2333.8M1897.5 2333.8L1897.5 2357.9L1900.5 2337.5L1900.5 2333.8M1906.5 2333.8L1906.5 2360.1M1912.5 2333.8L1912.5 2361.8L1915.5 2343.0L1918.5 2366.1L1921.5 2356.1L1921.5 2333.8M1927.5 2333.8L1927.5 2351.1L1930.5 2341.6L1930.5 2333.8M1936.5 2333.8L1936.5 2364.6M1945.5 2333.8L1945.5 2352.4L1948.5 2363.1L1948.5 2333.8M1957.5 2333.8L1957.5 2361.6M1969.5 2333.8L1969.5 2346.9M1978.5 2333.8L1978.5 2340.6M1984.5 2333.8L1984.5 2358.1M1990.5 2333.8L1990.5 2342.1M1996.5 2333.8L1996.5 2357.4L1999.5 2337.5L2002.5 2350.6L2002.5 2333.8M2008.5 2333.8L2008.5 2352.6M2017.5 2333.8L2017.5 2352.8L2020.5 2355.6L2020.5 2333.8M2026.5 2333.8L2026.5 2351.6M2032.5 2333.8L2032.5 2363.1L2035.5 2349.4L2035.5 2333.8M2041.5 2333.8L2041.5 2354.1M2053.5 2333.8L2053.5 2351.1M2059.5 2333.8L2059.5 2347.1M2065.5 2333.8L2065.5 2337.7L2068.5 2359.5L2071.5 2364.6L2071.5 2333.8M2077.5 2333.8L2077.5 2360.1M2083.5 2333.8L2083.5 2355.6M2095.5 2333.8L2095.5 2351.1L2098.5 2347.3L2101.5 2340.0L2101.5 2333.8M2107.5 2333.8L2107.5 2358.5L2110.5 2351.1L2110.5 2333.8M2119.5 2333.8L2119.5 2347.2M2125.5 2333.8L2125.5 2351.7M2131.5 2333.8L2131.5 2351.1L2134.5 2349.4L2134.5 2333.8M2143.5 2333.8L2143.5 2360.1M2149.5 2333.8L2149.5 2348.1L2152.5 2340.3L2152.5 2333.8M2161.5 2333.8L2161.5 2346.6M2167.5 2333.8L2167.5 2348.1L2170.5 2346.1L2173.5 2361.6L2176.5 2354.8L2179.5 2352.2L2182.5 2351.1L2185.5 2346.4L2185.5 2333.8M2191.5 2333.8L2191.5 2349.1L2194.5 2357.1L2197.5 2352.7L2197.5 2333.8M2203.5 2333.8L2203.5 2361.6M2209.5 2333.8L2209.5 2357.2L2212.5 2367.6L2215.5 2340.5L2218.5 2347.0L2221.5 2357.1L2221.5 2333.8M2230.5 2333.8L2230.5 2345.1L2233.5 2349.2L2233.5 2333.8M2239.5 2333.8L2239.5 2351.1M2245.5 2333.8L2245.5 2354.9M2251.5 2333.8L2251.5 2341.7L2254.5 2354.1L2254.5 2333.8M2260.5 2333.8L2260.5 2342.7L2263.5 2366.1L2266.5 2340.9L2266.5 2333.8M2272.5 2333.8L2272.5 2364.6M2281.5 2333.8L2281.5 2348.9M2290.5 2333.8L2290.5 2352.6L2293.5 2348.1L2293.5 2333.8M2299.5 2333.8L2299.5 2358.6L2302.5 2360.7L2305.5 2359.0L2305.5 2333.8M2314.6 2333.8L2314.6 2359.7L2317.6 2346.6L2317.6 2333.8M2323.6 2333.8L2323.6 2343.6L2326.6 2352.6L2326.6 2333.8M2332.6 2333.8L2332.6 2351.1M2341.6 2333.8L2341.6 2363.1M2350.6 2333.8L2350.6 2345.1M2356.6 2333.8L2356.6 2341.9L2359.6 2369.1L2362.6 2356.5L2362.6 2333.8M2371.6 2333.8L2371.6 2369.1" fill="none" stroke="#ff0000" stroke-width="5.80" stroke-linejoin="round" stroke-linecap="square"/>
<line x1="1383.20" y1="2333.78" x2="2428.20" y2="2333.78" stroke="#000" stroke-width="2.92" stroke-dasharray="2.92 4.81"/>
<path d="M1408.46 2386.90V2366.50M1708.49 2386.90V2366.50M2008.52 2386.90V2366.50M2308.55 2386.90V2366.50M1383.20 2371.40H1403.60M1383.20 2183.30H1403.60" stroke="#000" stroke-width="4.67" fill="none"/>
<text x="1392.80" y="2098.40">Oct</text>
<path d="M561.9 2670.9H603.9M564.9 2670.9L564.9 2655.8L567.9 2647.6L570.9 2659.6L573.9 2652.1L576.9 2663.4L579.9 2626.5L582.9 2663.4L585.9 2653.6L588.9 2667.1L588.9 2670.9M597.9 2670.9L597.9 2637.4L600.9 2644.5L603.9 2655.8L603.9 2670.9M639.9 2670.9H651.9M648.9 2670.9L648.9 2664.1M663.9 2670.9H687.9M663.9 2670.9L663.9 2667.1L666.9 2656.2L669.9 2652.1L672.9 2637.4L675.9 2644.5L675.9 2670.9M684.9 2670.9L684.9 2632.1M708.9 2670.9H711.9M708.9 2670.9L708.9 2657.7L711.9 2663.4L711.9 2670.9M729.9 2670.9H747.9M741.9 2670.9L741.9 2628.0M798.9 2670.9H801.9M798.9 2670.9L798.9 2652.1M825.9 2670.9H1333.0M828.9 2670.9L828.9 2656.2M843.9 2670.9L843.9 2665.9M855.9 2670.9L855.9 2655.1M861.9 2670.9L861.9 2666.7M871.0 2670.9L871.0 2664.3L874.0 2652.1L874.0 2670.9M883.0 2670.9L883.0 2641.5M889.0 2670.9L889.0 2667.0M895.0 2670.9L895.0 2665.3L898.0 2662.6L898.0 2670.9M922.0 2670.9L922.0 2654.3M931.0 2670.9L931.0 2664.2M943.0 2670.9L943.0 2640.0M949.0 2670.9L949.0 2664.8L952.0 2661.1L952.0 2670.9M958.0 2670.9L958.0 2630.3M964.0 2670.9L964.0 2631.4M970.0 2670.9L970.0 2662.9M979.0 2670.9L979.0 2626.1L982.0 2635.1L982.0 2670.9M988.0 2670.9L988.0 2664.7M994.0 2670.9L994.0 2651.3M1003.0 2670.9L1003.0 2661.1M1012.0 2670.9L1012.0 2653.6M1021.0 2670.9L1021.0 2655.5M1030.0 2670.9L1030.0 2664.1M1042.0 2670.9L1042.0 2621.6M1048.0 2670.9L1048.0 2661.1M1057.0 2670.9L1057.0 2659.6M1066.0 2670.9L1066.0 2657.3M1075.0 2670.9L1075.0 2659.6M1099.0 2670.9L1099.0 2665.6L1102.0 2668.2L1102.0 2670.9M1111.0 2670.9L1111.0 2618.6L1114.0 2664.1L1117.0 2667.9L1117.0 2670.9M1129.0 2670.9L1129.0 2662.6M1138.0 2670.9L1138.0 2667.0L1141.0 2663.5L1141.0 2670.9M1150.0 2670.9L1150.0 2664.1L1153.0 2664.1L1153.0 2670.9M1162.0 2670.9L1162.0 2637.4M1168.0 2670.9L1168.0 2646.1L1171.0 2662.8L1171.0 2670.9M1177.0 2670.9L1177.0 2666.4M1183.0 2670.9L1183.0 2665.1M1213.0 2670.9L1213.0 2664.0M1219.0 2670.9L1219.0 2668.2L1222.0 2665.1L1222.0 2670.9M1231.0 2670.9L1231.0 2666.8L1234.0 2644.5L1234.0 2670.9M1246.0 2670.9L1246.0 2664.5L1249.0 2644.5L1249.0 2670.9M1255.0 2670.9L1255.0 2667.6M1261.0 2670.9L1261.0 2603.5L1264.0 2661.8L1264.0 2670.9M1270.0 2670.9L1270.0 2638.2M1288.0 2670.9L1288.0 2652.1M1294.0 2670.9L1294.0 2643.0M1300.0 2670.9L1300.0 2649.4L1303.0 2645.3L1303.0 2670.9M1309.0 2670.9L1309.0 2663.6L1312.0 2667.9L1312.0 2670.9M1318.0 2670.9L1318.0 2623.1L1321.0 2662.6L1321.0 2670.9M1327.0 2670.9L1327.0 2662.0L1330.0 2667.1L1330.0 2670.9" fill="none" stroke="#0000ff" stroke-width="5.80" stroke-linejoin="round" stroke-linecap="square"/>
<path d="M384.9 2670.9H387.9M384.9 2670.9L384.9 2685.9L387.9 2698.7L387.9 2670.9M465.9 2670.9H468.9M465.9 2670.9L465.9 2702.9L468.9 2702.9L468.9 2670.9M561.9 2670.9H603.9M591.9 2670.9L591.9 2687.1M639.9 2670.9H651.9M639.9 2670.9L639.9 2678.4L642.9 2692.3L645.9 2674.6L645.9 2670.9M651.9 2670.9L651.9 2675.4M663.9 2670.9H687.9M678.9 2670.9L678.9 2691.2L681.9 2674.6L681.9 2670.9M687.9 2670.9L687.9 2682.5M729.9 2670.9H747.9M729.9 2670.9L729.9 2678.4L732.9 2698.0L735.9 2685.9L735.9 2670.9M744.9 2670.9L744.9 2689.7L747.9 2682.2L747.9 2670.9M798.9 2670.9H801.9M801.9 2670.9L801.9 2688.2M825.9 2670.9H1333.0M825.9 2670.9L825.9 2676.2M831.9 2670.9L831.9 2694.2L834.9 2686.3L837.9 2692.7L840.9 2685.4L840.9 2670.9M846.9 2670.9L846.9 2674.9L849.9 2691.2L852.9 2691.2L852.9 2670.9M858.9 2670.9L858.9 2695.1M865.0 2670.9L865.0 2688.2L868.0 2682.4L868.0 2670.9M877.0 2670.9L877.0 2677.5L880.0 2694.6L880.0 2670.9M886.0 2670.9L886.0 2700.2M892.0 2670.9L892.0 2682.2M901.0 2670.9L901.0 2691.2L904.0 2685.1L907.0 2695.7L910.0 2678.6L913.0 2681.5L916.0 2704.7L919.0 2696.7L919.0 2670.9M925.0 2670.9L925.0 2685.3L928.0 2679.2L928.0 2670.9M934.0 2670.9L934.0 2696.2L937.0 2682.2L940.0 2682.1L940.0 2670.9M946.0 2670.9L946.0 2698.7M955.0 2670.9L955.0 2692.7M961.0 2670.9L961.0 2694.2M967.0 2670.9L967.0 2691.2M973.0 2670.9L973.0 2695.7L976.0 2675.4L976.0 2670.9M985.0 2670.9L985.0 2683.7M991.0 2670.9L991.0 2683.9M997.0 2670.9L997.0 2685.2L1000.0 2684.8L1000.0 2670.9M1006.0 2670.9L1006.0 2677.7L1009.0 2686.2L1009.0 2670.9M1015.0 2670.9L1015.0 2691.2L1018.0 2686.3L1018.0 2670.9M1024.0 2670.9L1024.0 2692.7L1027.0 2684.1L1027.0 2670.9M1033.0 2670.9L1033.0 2690.3L1036.0 2706.2L1039.0 2680.5L1039.0 2670.9M1045.0 2670.9L1045.0 2682.2M1051.0 2670.9L1051.0 2696.3L1054.0 2692.5L1054.0 2670.9M1060.0 2670.9L1060.0 2680.7L1063.0 2689.5L1063.0 2670.9M1069.0 2670.9L1069.0 2683.5L1072.0 2686.7L1072.0 2670.9M1078.0 2670.9L1078.0 2686.7L1081.0 2692.5L1084.0 2690.1L1087.0 2695.7L1090.0 2694.1L1093.0 2690.2L1096.0 2694.2L1096.0 2670.9M1105.0 2670.9L1105.0 2700.2L1108.0 2693.7L1108.0 2670.9M1120.0 2670.9L1120.0 2692.7L1123.0 2691.0L1126.0 2675.4L1126.0 2670.9M1132.0 2670.9L1132.0 2680.7L1135.0 2692.7L1135.0 2670.9M1144.0 2670.9L1144.0 2674.9L1147.0 2690.3L1147.0 2670.9M1156.0 2670.9L1156.0 2694.2L1159.0 2688.2L1159.0 2670.9M1165.0 2670.9L1165.0 2676.1M1174.0 2670.9L1174.0 2688.2M1180.0 2670.9L1180.0 2691.2M1186.0 2670.9L1186.0 2683.9L1189.0 2695.6L1192.0 2696.0L1195.0 2683.4L1198.0 2695.7L1201.0 2680.1L1204.0 2707.7L1207.0 2695.9L1210.0 2701.7L1210.0 2670.9M1216.0 2670.9L1216.0 2688.6M1225.0 2670.9L1225.0 2690.2L1228.0 2692.7L1228.0 2670.9M1237.0 2670.9L1237.0 2675.1L1240.0 2691.2L1243.0 2685.9L1243.0 2670.9M1252.0 2670.9L1252.0 2692.3M1258.0 2670.9L1258.0 2694.2M1267.0 2670.9L1267.0 2679.2M1273.0 2670.9L1273.0 2695.1L1276.0 2682.2L1279.0 2675.0L1282.0 2686.4L1285.0 2704.7L1285.0 2670.9M1291.0 2670.9L1291.0 2681.9M1297.0 2670.9L1297.0 2697.2M1306.0 2670.9L1306.0 2704.7M1315.0 2670.9L1315.0 2691.2M1324.0 2670.9L1324.0 2692.7M1333.0 2670.9L1333.0 2695.7" fill="none" stroke="#ff0000" stroke-width="5.80" stroke-linejoin="round" stroke-linecap="square"/>
<line x1="338.64" y1="2670.88" x2="1383.20" y2="2670.88" stroke="#000" stroke-width="2.92" stroke-dasharray="2.92 4.81"/>
<path d="M363.90 2722.10V2701.70M663.93 2722.10V2701.70M963.96 2722.10V2701.70M1263.99 2722.10V2701.70M338.64 2708.50H359.04M338.64 2520.40H359.04" stroke="#000" stroke-width="4.67" fill="none"/>
<text x="348.24" y="2435.50">Nov</text>
<text x="316.5" y="2730.00" text-anchor="end">0</text>
<text x="316.5" y="2541.90" text-anchor="end">500</text>
<text x="363.90" y="2788.4" text-anchor="middle">1700</text>
<text x="663.93" y="2788.4" text-anchor="middle">1800</text>
<text x="963.96" y="2788.4" text-anchor="middle">1900</text>
<text x="1263.99" y="2788.4" text-anchor="middle">2000</text>
<path d="M1429.5 2670.9H1432.5M1429.5 2670.9L1429.5 2643.8L1432.5 2655.8L1432.5 2670.9M1480.5 2670.9L1480.5 2625.7M1510.5 2670.9H1513.5M1510.5 2670.9L1510.5 2639.7M1609.5 2670.9H1648.5M1639.5 2670.9L1639.5 2626.5L1642.5 2644.5L1645.5 2657.7L1645.5 2670.9M1684.5 2670.9H1696.5M1696.5 2670.9L1696.5 2625.7M1708.5 2670.9H1732.5M1708.5 2670.9L1708.5 2663.4L1711.5 2656.2L1714.5 2667.1L1717.5 2652.1L1720.5 2632.9L1723.5 2644.5L1723.5 2670.9M1729.5 2670.9L1729.5 2667.1M1750.5 2670.9H1753.5M1750.5 2670.9L1750.5 2659.2L1753.5 2667.1L1753.5 2670.9M1771.5 2670.9H1792.5M1774.5 2670.9L1774.5 2657.3L1777.5 2667.1L1780.5 2652.1L1783.5 2622.4L1783.5 2670.9M1840.5 2670.9H1843.5M1840.5 2670.9L1840.5 2652.1L1843.5 2605.4L1843.5 2670.9M1876.5 2670.9H2377.6M1882.5 2670.9L1882.5 2661.0M1888.5 2670.9L1888.5 2629.1L1891.5 2629.1L1891.5 2670.9M1897.5 2670.9L1897.5 2642.7M1903.5 2670.9L1903.5 2632.1M1912.5 2670.9L1912.5 2664.1L1915.5 2607.3L1915.5 2670.9M1921.5 2670.9L1921.5 2633.6L1924.5 2666.6L1924.5 2670.9M1930.5 2670.9L1930.5 2599.0M1936.5 2670.9L1936.5 2625.4M1942.5 2670.9L1942.5 2650.6M1948.5 2670.9L1948.5 2659.9M1954.5 2670.9L1954.5 2633.6L1957.5 2665.3L1960.5 2641.2L1960.5 2670.9M1966.5 2670.9L1966.5 2638.2L1969.5 2661.3L1972.5 2666.5L1972.5 2670.9M1981.5 2670.9L1981.5 2667.9L1984.5 2664.5L1984.5 2670.9M1993.5 2670.9L1993.5 2661.9L1996.5 2636.6L1999.5 2664.2L2002.5 2657.3L2005.5 2665.7L2008.5 2659.7L2011.5 2661.5L2011.5 2670.9M2017.5 2670.9L2017.5 2601.3L2020.5 2662.6L2020.5 2670.9M2026.5 2670.9L2026.5 2664.0L2029.5 2636.6L2029.5 2670.9M2038.5 2670.9L2038.5 2641.2M2050.5 2670.9L2050.5 2638.2L2053.5 2668.7L2056.5 2597.5L2056.5 2670.9M2068.5 2670.9L2068.5 2662.6M2074.5 2670.9L2074.5 2651.3L2077.5 2661.3L2077.5 2670.9M2086.5 2670.9L2086.5 2665.3L2089.5 2651.3L2089.5 2670.9M2095.5 2670.9L2095.5 2662.0L2098.5 2665.6L2098.5 2670.9M2104.5 2670.9L2104.5 2642.7M2113.5 2670.9L2113.5 2653.6M2119.5 2670.9L2119.5 2633.3M2125.5 2670.9L2125.5 2652.4M2137.5 2670.9L2137.5 2652.4M2155.5 2670.9L2155.5 2649.4L2158.5 2666.2L2158.5 2670.9M2164.5 2670.9L2164.5 2613.3M2173.5 2670.9L2173.5 2664.1M2179.5 2670.9L2179.5 2660.7L2182.5 2668.9L2185.5 2599.0L2185.5 2670.9M2194.5 2670.9L2194.5 2661.2L2197.5 2665.4L2200.5 2643.4L2200.5 2670.9M2206.5 2670.9L2206.5 2663.4M2233.5 2670.9L2233.5 2660.6L2236.5 2652.1L2239.5 2667.1L2242.5 2660.7L2245.5 2663.4L2245.5 2670.9M2254.5 2670.9L2254.5 2648.3L2257.5 2664.7L2257.5 2670.9M2266.5 2670.9L2266.5 2661.6M2278.5 2670.9L2278.5 2659.6M2293.5 2670.9L2293.5 2649.4M2302.5 2670.9L2302.5 2664.2M2314.6 2670.9L2314.6 2651.3L2317.6 2662.6L2320.6 2657.3L2323.6 2667.7L2326.6 2661.4L2326.6 2670.9M2335.6 2670.9L2335.6 2642.7L2338.6 2668.9L2338.6 2670.9M2344.6 2670.9L2344.6 2648.3M2350.6 2670.9L2350.6 2654.3M2356.6 2670.9L2356.6 2667.4L2359.6 2657.3L2359.6 2670.9M2368.6 2670.9L2368.6 2613.3L2371.6 2664.2L2374.6 2650.6L2374.6 2670.9" fill="none" stroke="#0000ff" stroke-width="5.80" stroke-linejoin="round" stroke-linecap="square"/>
<path d="M1510.5 2670.9H1513.5M1513.5 2670.9L1513.5 2685.6M1609.5 2670.9H1648.5M1609.5 2670.9L1609.5 2674.6L1612.5 2678.4L1615.5 2687.1L1618.5 2672.8L1621.5 2678.4L1624.5 2685.6L1627.5 2674.6L1630.5 2682.2L1633.5 2692.7L1633.5 2670.9M1648.5 2670.9L1648.5 2704.0M1684.5 2670.9H1696.5M1684.5 2670.9L1684.5 2682.5L1687.5 2678.4L1690.5 2687.1L1693.5 2674.6L1693.5 2670.9M1708.5 2670.9H1732.5M1726.5 2670.9L1726.5 2685.6M1771.5 2670.9H1792.5M1786.5 2670.9L1786.5 2674.6L1789.5 2685.9L1792.5 2698.7L1792.5 2670.9M1876.5 2670.9H2377.6M1876.5 2670.9L1876.5 2700.2L1879.5 2692.0L1879.5 2670.9M1885.5 2670.9L1885.5 2681.8M1894.5 2670.9L1894.5 2701.7M1900.5 2670.9L1900.5 2682.2M1906.5 2670.9L1906.5 2686.5L1909.5 2683.7L1909.5 2670.9M1918.5 2670.9L1918.5 2685.2M1927.5 2670.9L1927.5 2697.2M1933.5 2670.9L1933.5 2680.7M1939.5 2670.9L1939.5 2687.1M1945.5 2670.9L1945.5 2697.2M1951.5 2670.9L1951.5 2683.2M1963.5 2670.9L1963.5 2680.7M1975.5 2670.9L1975.5 2694.3L1978.5 2689.7L1978.5 2670.9M1987.5 2670.9L1987.5 2673.9L1990.5 2698.7L1990.5 2670.9M2014.5 2670.9L2014.5 2691.2M2023.5 2670.9L2023.5 2701.7M2032.5 2670.9L2032.5 2677.7L2035.5 2684.1L2035.5 2670.9M2041.5 2670.9L2041.5 2680.8L2044.5 2690.0L2047.5 2683.7L2047.5 2670.9M2059.5 2670.9L2059.5 2693.5L2062.5 2691.2L2065.5 2693.6L2065.5 2670.9M2071.5 2670.9L2071.5 2691.2M2080.5 2670.9L2080.5 2679.2L2083.5 2676.2L2083.5 2670.9M2092.5 2670.9L2092.5 2677.7M2101.5 2670.9L2101.5 2694.2M2107.5 2670.9L2107.5 2682.4L2110.5 2686.6L2110.5 2670.9M2116.5 2670.9L2116.5 2689.7M2122.5 2670.9L2122.5 2683.0M2128.5 2670.9L2128.5 2698.7L2131.5 2692.6L2134.5 2688.4L2134.5 2670.9M2140.5 2670.9L2140.5 2683.7L2143.5 2691.0L2146.5 2685.2L2149.5 2694.3L2152.5 2689.7L2152.5 2670.9M2161.5 2670.9L2161.5 2688.2M2167.5 2670.9L2167.5 2688.2L2170.5 2688.0L2170.5 2670.9M2176.5 2670.9L2176.5 2697.2M2188.5 2670.9L2188.5 2693.7L2191.5 2694.8L2191.5 2670.9M2203.5 2670.9L2203.5 2689.4M2209.5 2670.9L2209.5 2676.6L2212.5 2676.1L2215.5 2690.3L2218.5 2685.3L2221.5 2692.7L2224.5 2679.8L2227.5 2689.0L2230.5 2700.2L2230.5 2670.9M2248.5 2670.9L2248.5 2688.2L2251.5 2693.4L2251.5 2670.9M2260.5 2670.9L2260.5 2685.2L2263.5 2686.0L2263.5 2670.9M2269.5 2670.9L2269.5 2690.5L2272.5 2694.2L2275.5 2684.5L2275.5 2670.9M2281.5 2670.9L2281.5 2703.2L2284.5 2682.6L2287.5 2685.0L2290.5 2676.1L2290.5 2670.9M2296.5 2670.9L2296.5 2689.8L2299.5 2689.7L2299.5 2670.9M2305.5 2670.9L2305.5 2679.7L2308.6 2688.2L2311.6 2694.4L2311.6 2670.9M2329.6 2670.9L2329.6 2706.2L2332.6 2677.3L2332.6 2670.9M2341.6 2670.9L2341.6 2680.0M2347.6 2670.9L2347.6 2694.2M2353.6 2670.9L2353.6 2704.7M2362.6 2670.9L2362.6 2693.1L2365.6 2686.7L2365.6 2670.9M2377.6 2670.9L2377.6 2689.7" fill="none" stroke="#ff0000" stroke-width="5.80" stroke-linejoin="round" stroke-linecap="square"/>
<line x1="1383.20" y1="2670.88" x2="2428.20" y2="2670.88" stroke="#000" stroke-width="2.92" stroke-dasharray="2.92 4.81"/>
<path d="M1408.46 2722.10V2701.70M1708.49 2722.10V2701.70M2008.52 2722.10V2701.70M2308.55 2722.10V2701.70M1383.20 2708.50H1403.60M1383.20 2520.40H1403.60" stroke="#000" stroke-width="4.67" fill="none"/>
<text x="1392.80" y="2435.50">Dec</text>
<text x="1408.46" y="2788.4" text-anchor="middle">1700</text>
<text x="1708.49" y="2788.4" text-anchor="middle">1800</text>
<text x="2008.52" y="2788.4" text-anchor="middle">1900</text>
<text x="2308.55" y="2788.4" text-anchor="middle">2000</text>
<path d="M338.64 703.00H1383.20V1040.10H338.64ZM1383.20 703.00H2428.20V1040.10H1383.20ZM338.64 1040.10H1383.20V1375.80H338.64ZM1383.20 1040.10H2428.20V1375.80H1383.20ZM338.64 1375.80H1383.20V1712.80H338.64ZM1383.20 1375.80H2428.20V1712.80H1383.20ZM338.64 1712.80H1383.20V2049.80H338.64ZM1383.20 1712.80H2428.20V2049.80H1383.20ZM338.64 2049.80H1383.20V2386.90H338.64ZM1383.20 2049.80H2428.20V2386.90H1383.20ZM338.64 2386.90H1383.20V2722.10H338.64ZM1383.20 2386.90H2428.20V2722.10H1383.20Z" fill="none" stroke="#000" stroke-width="4.67" stroke-linejoin="miter"/>
<text transform="translate(99,1700.1) rotate(-90)" text-anchor="middle">Monthly amount anomaly (%)</text>
</g></svg></body></html>
